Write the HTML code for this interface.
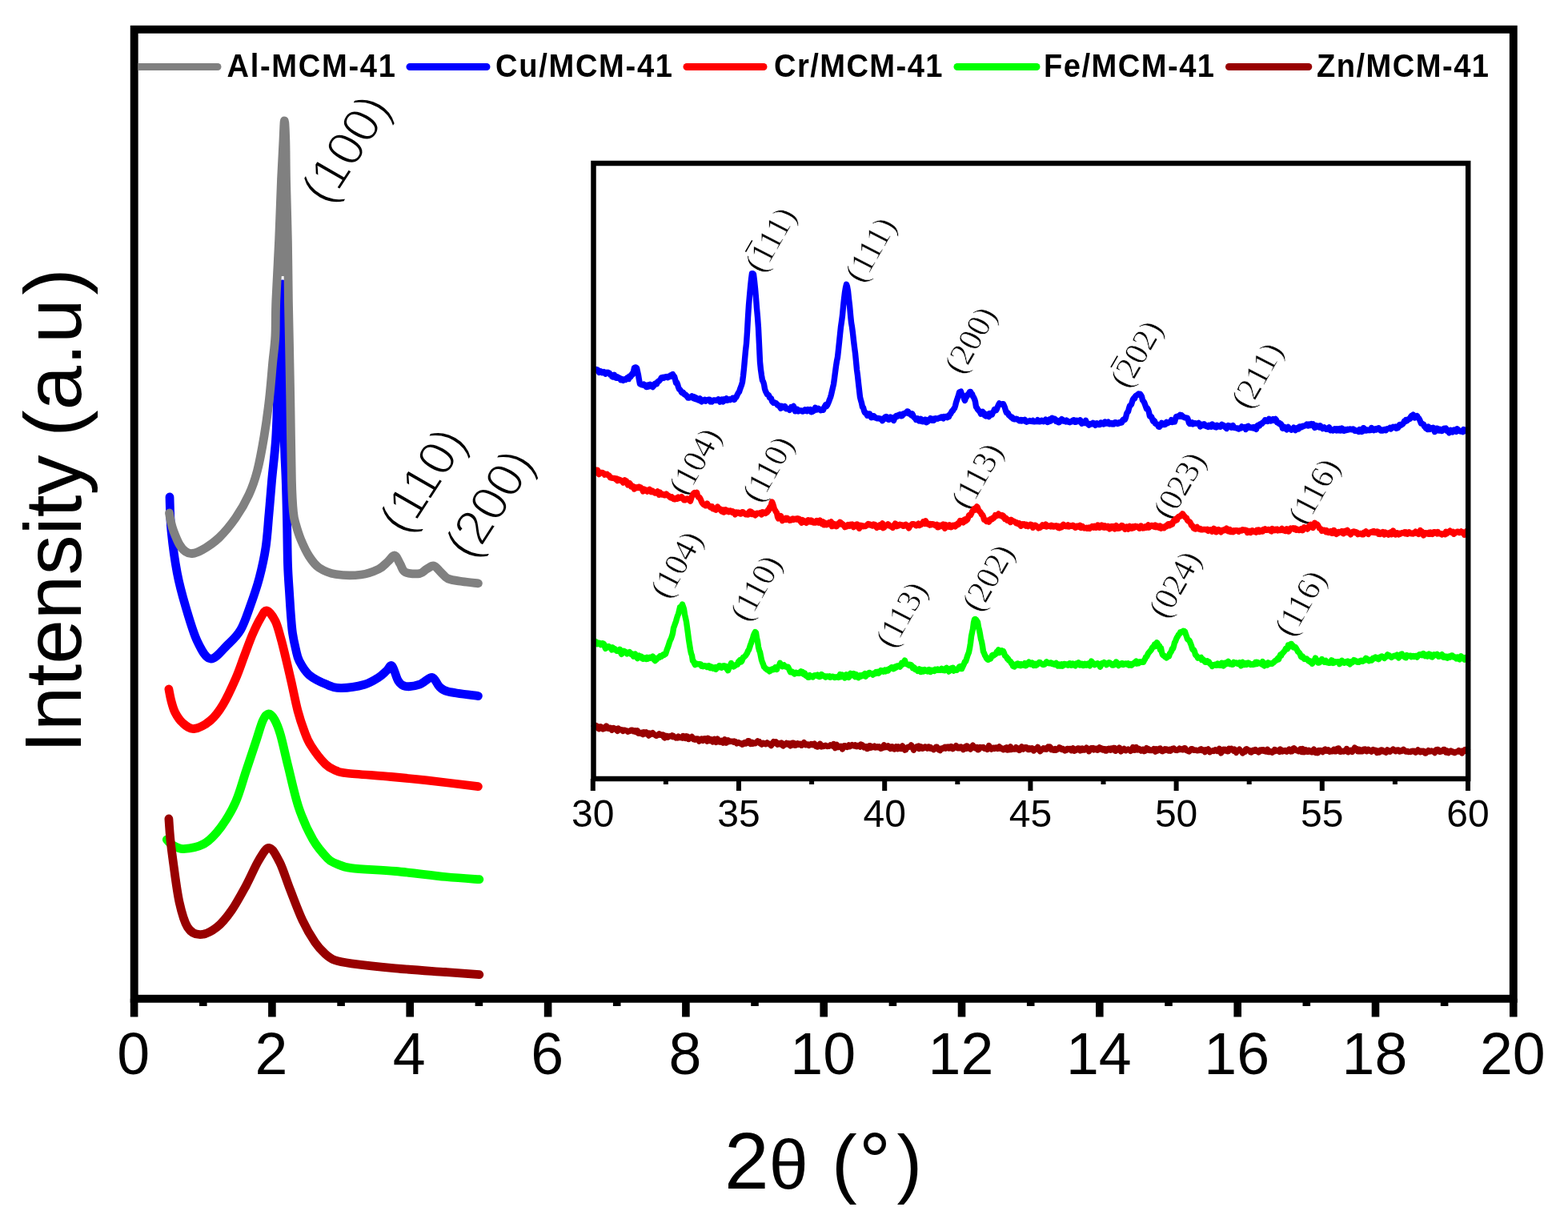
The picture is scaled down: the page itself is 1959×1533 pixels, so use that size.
<!DOCTYPE html><html><head><meta charset="utf-8"><title>XRD patterns</title>
<style>html,body{margin:0;padding:0;background:#fff;}svg{display:block;}.ar{font-family:"Liberation Sans",Arial,sans-serif;}.tm{font-family:"Liberation Serif","Times New Roman",serif;}</style></head><body>
<svg width="1959" height="1533" viewBox="0 0 1959 1533">
<rect width="1959" height="1533" fill="#fff"/>
<g fill="none" stroke-width="10.8" stroke-linejoin="round" stroke-linecap="round">
<path d="M212.0,621.0 C212.3,628.1 212.4,647.7 214.0,663.5 C215.6,679.3 218.3,700.0 221.3,715.7 C224.3,731.4 227.6,743.3 231.8,757.5 C236.0,771.7 241.2,790.1 246.4,801.0 C251.6,811.9 256.7,822.2 263.0,823.0 C269.3,823.8 277.7,812.0 284.0,806.0 C290.3,800.0 295.9,795.1 300.6,787.0 C305.4,778.9 308.6,768.3 312.5,757.5 C316.4,746.7 320.8,734.2 324.0,722.0 C327.2,709.8 330.0,697.2 332.0,684.0 C334.0,670.8 334.7,656.6 336.0,642.6 C337.3,628.6 338.2,615.4 339.6,600.0 C341.0,584.6 343.3,566.7 344.5,550.0 C345.7,533.3 345.9,516.7 346.6,500.0 C347.3,483.3 347.8,466.7 348.5,450.0 C349.2,433.3 350.1,415.8 350.8,400.0 C351.5,384.2 352.1,355.0 352.5,355.0 C352.9,355.0 353.1,384.2 353.3,400.0 C353.5,415.8 353.6,433.3 353.8,450.0 C354.0,466.7 354.3,483.3 354.5,500.0 C354.7,516.7 354.8,533.3 355.2,550.0 C355.6,566.7 356.6,583.3 357.2,600.0 C357.8,616.7 358.1,632.5 358.5,650.0 C358.9,667.5 359.0,690.0 359.5,705.0 C360.0,720.0 360.8,729.2 361.5,740.0 C362.2,750.8 362.8,761.5 363.5,770.0 C364.2,778.5 364.5,784.2 365.5,791.0 C366.5,797.8 368.1,805.2 369.5,811.0 C370.9,816.8 371.2,820.7 374.0,826.0 C376.8,831.3 380.2,838.1 386.0,843.0 C391.8,847.9 402.2,852.8 409.0,855.6 C415.8,858.4 418.9,859.7 426.6,859.6 C434.3,859.5 447.6,857.4 455.4,855.2 C463.2,853.0 468.6,849.2 473.2,846.3 C477.8,843.4 480.2,840.4 483.0,838.0 C485.8,835.6 487.4,829.9 489.8,832.0 C492.2,834.1 494.8,846.5 497.6,850.7 C500.4,854.9 502.1,856.6 506.5,857.4 C510.9,858.1 518.7,857.1 524.2,855.2 C529.7,853.4 535.6,845.9 539.7,846.3 C543.8,846.7 545.3,854.4 548.6,857.4 C551.9,860.4 551.6,862.0 559.7,864.0 C567.8,866.0 591.1,868.7 597.4,869.6" stroke="#0000ff"/>
<path d="M211.5,641.0 C211.8,642.8 212.6,648.2 213.5,652.0 C214.4,655.8 215.2,659.3 217.0,664.0 C218.8,668.7 221.6,675.8 224.0,680.0 C226.4,684.2 229.0,687.1 231.7,689.0 C234.4,690.9 236.5,691.8 240.0,691.5 C243.5,691.2 247.0,690.2 252.6,687.0 C258.2,683.8 266.5,678.7 273.5,672.0 C280.5,665.3 288.1,656.0 294.4,647.0 C300.6,638.0 306.5,627.8 311.0,618.0 C315.5,608.2 318.3,600.2 321.5,588.0 C324.7,575.8 327.5,560.0 330.0,545.0 C332.5,530.0 334.8,513.0 336.5,498.0 C338.2,483.0 339.3,468.0 340.5,455.0 C341.7,442.0 343.2,433.2 343.9,420.0 C344.6,406.8 344.0,396.0 344.8,376.0 C345.6,356.0 347.5,325.2 348.6,300.0 C349.7,274.8 350.6,245.3 351.5,224.5 C352.4,203.7 353.4,187.2 354.0,175.0 C354.6,162.8 354.9,151.0 355.4,151.0 C355.9,151.0 356.4,162.8 356.8,175.0 C357.2,187.2 357.1,203.7 357.5,224.5 C357.9,245.3 358.9,274.8 359.4,300.0 C359.9,325.2 360.0,354.3 360.4,376.0 C360.8,397.7 361.1,409.3 361.5,430.0 C361.9,450.7 362.3,471.7 362.8,500.0 C363.3,528.3 363.8,576.7 364.4,600.0 C365.0,623.3 365.6,630.8 366.5,640.0 C367.4,649.2 367.9,649.3 369.5,655.0 C371.1,660.7 373.0,667.3 375.8,674.0 C378.6,680.7 382.4,689.1 386.2,695.0 C390.0,700.9 393.1,705.6 398.7,709.4 C404.3,713.1 410.9,716.1 419.6,717.5 C428.3,718.9 442.1,719.1 451.0,718.0 C459.9,716.9 467.6,713.7 473.2,711.0 C478.8,708.3 481.0,704.8 484.3,702.0 C487.6,699.2 490.5,693.6 493.1,694.0 C495.7,694.4 497.6,700.9 499.8,704.4 C502.0,707.9 502.4,713.0 506.5,715.0 C510.6,717.0 519.8,717.3 524.2,716.6 C528.6,715.9 530.0,712.6 533.0,711.0 C536.0,709.4 539.0,706.3 542.0,707.0 C545.0,707.7 547.8,712.3 550.8,715.0 C553.8,717.7 555.3,721.1 559.7,723.0 C564.1,724.9 571.1,725.5 577.4,726.5 C583.7,727.5 594.1,728.4 597.4,728.8" stroke="#808080"/>
<path d="M355.4,165 L347.6,345 L359.8,345 Z" fill="#808080" stroke="none"/>
<path d="M210.9,861.0 C211.4,863.5 212.7,871.2 214.0,876.0 C215.3,880.8 216.4,885.5 218.7,890.0 C221.0,894.5 224.1,899.6 228.0,903.0 C231.9,906.4 236.3,911.0 242.2,910.5 C248.0,910.0 257.0,905.1 263.1,900.0 C269.2,894.9 273.6,888.7 278.8,880.0 C284.0,871.3 290.0,858.0 294.4,848.0 C298.8,838.0 301.5,829.2 305.0,820.0 C308.5,810.8 311.9,801.0 315.3,793.0 C318.8,785.0 322.7,777.0 325.7,772.0 C328.7,767.0 330.4,762.3 333.5,763.0 C336.6,763.7 341.1,770.2 344.0,776.0 C346.9,781.8 348.8,790.3 351.0,798.0 C353.2,805.7 354.8,813.0 357.0,822.0 C359.2,831.0 361.5,841.0 364.0,852.0 C366.5,863.0 369.3,877.8 372.0,888.0 C374.7,898.2 377.3,905.8 380.0,913.0 C382.7,920.2 383.9,924.4 388.4,931.4 C392.8,938.4 401.5,949.7 406.7,954.9 C411.9,960.1 415.4,960.9 419.8,962.7 C424.2,964.6 421.8,964.7 433.3,966.0 C444.8,967.3 472.1,969.0 488.7,970.5 C505.3,972.0 514.9,972.9 533.0,974.9 C551.1,976.9 586.7,981.4 597.4,982.7" stroke="#ff0000"/>
<path d="M208.3,1049.0 C209.4,1050.1 211.5,1053.6 215.0,1055.5 C218.5,1057.4 222.5,1060.8 229.2,1060.6 C235.9,1060.3 247.5,1058.6 255.3,1054.0 C263.1,1049.4 269.7,1041.9 276.2,1033.2 C282.7,1024.5 289.2,1013.7 294.4,1002.0 C299.6,990.3 303.1,976.0 307.5,963.0 C311.9,950.0 317.0,934.5 320.5,924.0 C324.0,913.5 326.0,905.3 328.5,900.0 C331.0,894.7 333.1,892.2 335.5,892.0 C337.9,891.8 340.5,894.6 343.0,899.0 C345.5,903.4 347.7,908.5 350.5,918.3 C353.3,928.0 356.2,942.3 360.0,957.5 C363.8,972.7 368.3,994.5 373.5,1009.7 C378.7,1025.0 385.0,1038.5 391.0,1049.0 C397.0,1059.5 404.5,1067.4 409.3,1072.4 C414.1,1077.4 414.8,1076.9 419.8,1078.9 C424.8,1080.9 426.7,1083.0 439.1,1084.6 C451.5,1086.2 474.4,1086.7 494.0,1088.5 C513.6,1090.3 539.1,1093.8 556.6,1095.5 C574.1,1097.2 591.9,1098.2 598.9,1098.7" stroke="#00ff00"/>
<path d="M210.9,1023.0 C211.2,1027.5 212.1,1041.3 213.0,1050.0 C213.9,1058.7 214.3,1062.2 216.1,1075.0 C217.9,1087.8 220.9,1113.1 224.0,1127.0 C227.1,1140.9 230.1,1151.7 234.4,1158.5 C238.7,1165.3 243.9,1167.7 250.0,1167.7 C256.1,1167.7 264.4,1163.5 270.9,1158.5 C277.4,1153.5 283.1,1146.3 289.2,1137.6 C295.3,1128.9 301.8,1116.7 307.5,1106.3 C313.2,1095.9 318.4,1082.8 323.2,1075.0 C328.0,1067.2 331.8,1059.2 336.2,1059.5 C340.6,1059.8 344.9,1068.4 349.3,1077.0 C353.7,1085.6 357.5,1098.8 362.3,1111.0 C367.1,1123.2 372.8,1138.9 378.0,1150.0 C383.2,1161.1 389.0,1170.6 393.7,1177.5 C398.4,1184.4 401.9,1187.8 406.0,1191.5 C410.1,1195.2 412.5,1197.5 418.0,1199.5 C423.5,1201.5 426.4,1202.1 439.1,1203.8 C451.8,1205.5 474.4,1208.0 494.0,1209.8 C513.6,1211.6 539.1,1213.2 556.6,1214.5 C574.1,1215.8 591.9,1217.2 598.9,1217.7" stroke="#980000"/>
</g>
<rect x="167.7" y="36.8" width="1723.1" height="1211.0" fill="none" stroke="#000" stroke-width="9.9"/>
<path d="M167.6,1247.8 V1270.5 M253.8,1247.8 V1257.0 M339.9,1247.8 V1270.5 M426.1,1247.8 V1257.0 M512.2,1247.8 V1270.5 M598.4,1247.8 V1257.0 M684.6,1247.8 V1270.5 M770.7,1247.8 V1257.0 M856.9,1247.8 V1270.5 M943.0,1247.8 V1257.0 M1029.2,1247.8 V1270.5 M1115.4,1247.8 V1257.0 M1201.5,1247.8 V1270.5 M1287.7,1247.8 V1257.0 M1373.8,1247.8 V1270.5 M1460.0,1247.8 V1257.0 M1546.2,1247.8 V1270.5 M1632.3,1247.8 V1257.0 M1718.5,1247.8 V1270.5 M1804.6,1247.8 V1257.0 M1890.8,1247.8 V1270.5" stroke="#000" stroke-width="9.6" fill="none"/>
<g class="ar" font-size="73.5" text-anchor="middle" fill="#000">
<text x="166.6" y="1342.3">0</text>
<text x="338.9" y="1342.3">2</text>
<text x="511.2" y="1342.3">4</text>
<text x="683.6" y="1342.3">6</text>
<text x="855.9" y="1342.3">8</text>
<text x="1028.2" y="1342.3">10</text>
<text x="1200.5" y="1342.3">12</text>
<text x="1372.8" y="1342.3">14</text>
<text x="1545.2" y="1342.3">16</text>
<text x="1717.5" y="1342.3">18</text>
<text x="1889.8" y="1342.3">20</text>
</g>
<text id="ylab" class="ar" font-size="100" text-anchor="middle" transform="translate(100.5,638) rotate(-90)">Intensity <tspan dx="-5">(a.u</tspan><tspan dx="5">)</tspan></text>
<text id="xlab" class="ar" font-size="100" x="905" y="1485">2<tspan font-size="88">θ</tspan><tspan font-size="95" dx="3"> (</tspan><tspan dx="2.5">°</tspan><tspan font-size="95" dx="7.5">)</tspan></text>
<g class="ar" font-weight="bold" font-size="41" fill="#000">
<line x1="172.5" y1="83.5" x2="272.0" y2="83.5" stroke="#808080" stroke-width="9" stroke-linecap="butt"/>
<circle cx="272.0" cy="83.5" r="4.5" fill="#808080"/>
<text id="leg0" transform="scale(0.930,1)" x="304.8" y="96" textLength="226.3" lengthAdjust="spacing">Al-MCM-41</text>
<line x1="512.0" y1="83.5" x2="608.0" y2="83.5" stroke="#0000ff" stroke-width="9" stroke-linecap="round"/>
<text id="leg1" transform="scale(0.930,1)" x="665.6" y="96" textLength="237.6" lengthAdjust="spacing">Cu/MCM-41</text>
<line x1="858.0" y1="83.5" x2="954.0" y2="83.5" stroke="#ff0000" stroke-width="9" stroke-linecap="round"/>
<text id="leg2" transform="scale(0.930,1)" x="1039.8" y="96" textLength="226.3" lengthAdjust="spacing">Cr/MCM-41</text>
<line x1="1196.0" y1="83.5" x2="1295.0" y2="83.5" stroke="#00ff00" stroke-width="9" stroke-linecap="round"/>
<text id="leg3" transform="scale(0.930,1)" x="1402.2" y="96" textLength="229.0" lengthAdjust="spacing">Fe/MCM-41</text>
<line x1="1535.5" y1="83.5" x2="1634.8" y2="83.5" stroke="#980000" stroke-width="9" stroke-linecap="round"/>
<text id="leg4" transform="scale(0.930,1)" x="1768.8" y="96" textLength="231.2" lengthAdjust="spacing">Zn/MCM-41</text>
</g>
<g id="m100" transform="matrix(0.5446,-0.8387,0.8660,0.5000,410.5,258.3)"><text class="ar" font-size="63" stroke="#fff" stroke-width="1.7">(100)</text></g>
<g id="m110" transform="matrix(0.5446,-0.8387,0.8660,0.5000,507.9,670.5)"><text class="ar" font-size="63" stroke="#fff" stroke-width="1.7">(110)</text></g>
<g id="m200" transform="matrix(0.5446,-0.8387,0.8660,0.5000,590.2,701.5)"><text class="ar" font-size="63" stroke="#fff" stroke-width="1.7">(200)</text></g>
<g id="b111n" transform="matrix(0.5000,-0.8660,0.8910,0.4540,953.1,342.7)"><text class="tm" font-size="41" stroke="#fff" stroke-width="0.6">(111)</text><line x1="15.2" y1="-32.8" x2="31.7" y2="-32.8" stroke="#000" stroke-width="1.6"/></g>
<g id="b111" transform="matrix(0.5000,-0.8660,0.8910,0.4540,1078.0,355.2)"><text class="tm" font-size="41" stroke="#fff" stroke-width="0.6">(111)</text></g>
<g id="b200" transform="matrix(0.5000,-0.8660,0.8910,0.4540,1202.3,469.6)"><text class="tm" font-size="41" stroke="#fff" stroke-width="0.6">(200)</text></g>
<g id="b202n" transform="matrix(0.5000,-0.8660,0.8910,0.4540,1409.6,486.9)"><text class="tm" font-size="41" stroke="#fff" stroke-width="0.6">(202)</text><line x1="15.2" y1="-32.8" x2="31.7" y2="-32.8" stroke="#000" stroke-width="1.6"/></g>
<g id="b211" transform="matrix(0.5000,-0.8660,0.8910,0.4540,1560.8,513.1)"><text class="tm" font-size="41" stroke="#fff" stroke-width="0.6">(211)</text></g>
<g id="r104" transform="matrix(0.5000,-0.8660,0.8910,0.4540,858.0,621.1)"><text class="tm" font-size="41" stroke="#fff" stroke-width="0.6">(104)</text></g>
<g id="r110" transform="matrix(0.5000,-0.8660,0.8910,0.4540,949.7,630.1)"><text class="tm" font-size="41" stroke="#fff" stroke-width="0.6">(110)</text></g>
<g id="r113" transform="matrix(0.5000,-0.8660,0.8910,0.4540,1210.7,638.5)"><text class="tm" font-size="41" stroke="#fff" stroke-width="0.6">(113)</text></g>
<g id="r023" transform="matrix(0.5000,-0.8660,0.8910,0.4540,1463.3,651.1)"><text class="tm" font-size="41" stroke="#fff" stroke-width="0.6">(023)</text></g>
<g id="r116" transform="matrix(0.5000,-0.8660,0.8910,0.4540,1631.8,657.7)"><text class="tm" font-size="41" stroke="#fff" stroke-width="0.6">(116)</text></g>
<g id="g104" transform="matrix(0.5000,-0.8660,0.8910,0.4540,835.0,750.0)"><text class="tm" font-size="41" stroke="#fff" stroke-width="0.6">(104)</text></g>
<g id="g110" transform="matrix(0.5000,-0.8660,0.8910,0.4540,934.4,778.8)"><text class="tm" font-size="41" stroke="#fff" stroke-width="0.6">(110)</text></g>
<g id="g113" transform="matrix(0.5000,-0.8660,0.8910,0.4540,1116.2,811.8)"><text class="tm" font-size="41" stroke="#fff" stroke-width="0.6">(113)</text></g>
<g id="g202" transform="matrix(0.5000,-0.8660,0.8910,0.4540,1224.2,766.5)"><text class="tm" font-size="41" stroke="#fff" stroke-width="0.6">(202)</text></g>
<g id="g024" transform="matrix(0.5000,-0.8660,0.8910,0.4540,1457.5,774.8)"><text class="tm" font-size="41" stroke="#fff" stroke-width="0.6">(024)</text></g>
<g id="g116" transform="matrix(0.5000,-0.8660,0.8910,0.4540,1614.8,797.5)"><text class="tm" font-size="41" stroke="#fff" stroke-width="0.6">(116)</text></g>
<g fill="none" stroke-width="7.4" stroke-linejoin="round" stroke-linecap="butt">
<path d="M741.5,462.1 742.5,462.4 743.5,461.9 744.5,461.4 745.5,461.9 746.5,462.0 747.5,463.7 748.5,465.3 749.5,463.7 750.5,463.7 751.5,465.3 752.5,465.7 753.5,465.5 754.5,464.7 755.5,466.1 756.5,467.1 757.5,465.5 758.5,466.1 759.5,465.2 760.5,465.9 761.5,466.3 762.5,468.3 763.5,468.3 764.5,470.3 765.5,471.0 766.5,470.4 767.5,468.4 768.5,470.7 769.5,472.1 770.5,472.3 771.5,470.9 772.5,471.9 773.5,471.9 774.5,472.7 775.5,474.7 776.5,473.4 777.5,474.2 778.5,475.3 779.5,474.0 780.5,474.2 781.5,474.5 782.5,473.9 783.5,472.1 784.5,473.1 785.5,473.4 786.5,470.1 787.5,471.1 788.5,469.6 789.5,467.4 790.5,467.8 791.5,464.0 792.5,459.5 793.5,459.0 794.5,459.0 795.5,459.7 796.5,464.0 797.5,468.6 798.5,474.8 799.5,479.8 800.5,480.1 801.5,480.8 802.5,480.7 803.5,481.2 804.5,480.2 805.5,480.9 806.5,481.9 807.5,483.6 808.5,483.6 809.5,481.0 810.5,481.4 811.5,482.6 812.5,480.3 813.5,481.5 814.5,482.4 815.5,483.5 816.5,482.3 817.5,480.2 818.5,479.1 819.5,478.9 820.5,479.7 821.5,477.1 822.5,476.3 823.5,476.1 824.5,474.8 825.5,473.4 826.5,471.6 827.5,471.7 828.5,471.2 829.5,472.3 830.5,471.6 831.5,470.8 832.5,471.2 833.5,470.5 834.5,471.7 835.5,470.9 836.5,470.9 837.5,469.2 838.5,470.2 839.5,468.1 840.5,467.6 841.5,469.5 842.5,470.4 843.5,473.8 844.5,478.1 845.5,477.7 846.5,480.1 847.5,483.7 848.5,486.1 849.5,486.8 850.5,488.0 851.5,490.2 852.5,490.9 853.5,490.3 854.5,492.1 855.5,493.1 856.5,493.0 857.5,494.7 858.5,494.8 859.5,497.1 860.5,497.0 861.5,496.8 862.5,496.4 863.5,496.5 864.5,494.9 865.5,496.0 866.5,497.6 867.5,496.0 868.5,498.4 869.5,496.9 870.5,499.0 871.5,498.4 872.5,499.9 873.5,499.3 874.5,498.0 875.5,501.1 876.5,501.8 877.5,500.1 878.5,499.6 879.5,499.6 880.5,499.3 881.5,501.2 882.5,500.0 883.5,500.1 884.5,499.4 885.5,499.3 886.5,499.3 887.5,501.8 888.5,501.1 889.5,501.9 890.5,500.9 891.5,499.9 892.5,500.1 893.5,500.0 894.5,500.5 895.5,500.2 896.5,499.9 897.5,498.8 898.5,499.8 899.5,502.2 900.5,499.9 901.5,499.2 902.5,500.9 903.5,501.8 904.5,498.9 905.5,499.4 906.5,498.9 907.5,497.9 908.5,500.3 909.5,500.0 910.5,499.5 911.5,498.8 912.5,499.6 913.5,498.7 914.5,498.5 915.5,497.2 916.5,497.3 917.5,499.3 918.5,497.2 919.5,496.5 920.5,494.8 921.5,492.5 922.5,490.7 923.5,489.6 924.5,486.4 925.5,483.7 926.5,481.2 927.5,477.3 928.5,469.7 929.5,460.4 930.5,449.1 931.5,438.0 932.5,429.5 933.5,414.8 934.5,396.5 935.5,381.0 936.5,369.5 937.5,358.9 938.5,349.1 939.5,341.6 940.5,341.6 941.5,342.6 942.5,351.0 943.5,360.5 944.5,372.0 945.5,385.0 946.5,396.1 947.5,410.1 948.5,430.6 949.5,452.1 950.5,462.1 951.5,469.1 952.5,475.1 953.5,476.8 954.5,480.0 955.5,485.9 956.5,488.9 957.5,490.8 958.5,492.6 959.5,493.1 960.5,493.9 961.5,496.6 962.5,497.1 963.5,497.9 964.5,501.3 965.5,502.3 966.5,503.3 967.5,502.7 968.5,503.4 969.5,503.8 970.5,504.7 971.5,506.3 972.5,506.1 973.5,507.5 974.5,508.6 975.5,510.1 976.5,507.3 977.5,509.3 978.5,509.0 979.5,508.8 980.5,507.6 981.5,509.1 982.5,510.8 983.5,510.4 984.5,510.6 985.5,510.8 986.5,512.3 987.5,511.0 988.5,508.7 989.5,509.8 990.5,508.5 991.5,507.5 992.5,511.1 993.5,513.8 994.5,512.6 995.5,511.0 996.5,511.5 997.5,513.9 998.5,513.3 999.5,513.0 1000.5,512.9 1001.5,513.2 1002.5,514.1 1003.5,513.9 1004.5,513.1 1005.5,511.9 1006.5,513.1 1007.5,512.5 1008.5,513.7 1009.5,511.6 1010.5,512.3 1011.5,512.4 1012.5,511.6 1013.5,514.7 1014.5,514.6 1015.5,512.5 1016.5,513.3 1017.5,512.3 1018.5,509.3 1019.5,511.7 1020.5,512.0 1021.5,511.7 1022.5,510.4 1023.5,511.0 1024.5,511.5 1025.5,512.7 1026.5,511.8 1027.5,511.4 1028.5,512.2 1029.5,509.4 1030.5,507.8 1031.5,505.8 1032.5,507.8 1033.5,506.3 1034.5,504.2 1035.5,501.8 1036.5,499.0 1037.5,496.5 1038.5,492.9 1039.5,488.7 1040.5,484.3 1041.5,480.0 1042.5,472.8 1043.5,465.1 1044.5,457.5 1045.5,451.1 1046.5,446.2 1047.5,437.1 1048.5,427.5 1049.5,417.8 1050.5,408.4 1051.5,401.6 1052.5,394.0 1053.5,383.2 1054.5,373.6 1055.5,365.4 1056.5,359.4 1057.5,355.3 1058.5,358.1 1059.5,363.7 1060.5,373.3 1061.5,381.7 1062.5,392.9 1063.5,402.8 1064.5,408.7 1065.5,416.3 1066.5,425.5 1067.5,433.6 1068.5,441.2 1069.5,451.4 1070.5,461.9 1071.5,469.3 1072.5,478.6 1073.5,487.3 1074.5,496.1 1075.5,500.1 1076.5,503.5 1077.5,508.4 1078.5,509.2 1079.5,513.1 1080.5,515.5 1081.5,515.5 1082.5,517.1 1083.5,519.1 1084.5,517.5 1085.5,516.9 1086.5,516.9 1087.5,519.3 1088.5,521.7 1089.5,521.5 1090.5,519.6 1091.5,519.7 1092.5,520.7 1093.5,522.0 1094.5,522.0 1095.5,522.6 1096.5,522.9 1097.5,522.5 1098.5,522.8 1099.5,523.2 1100.5,523.1 1101.5,524.1 1102.5,525.6 1103.5,524.3 1104.5,523.0 1105.5,521.3 1106.5,522.8 1107.5,520.7 1108.5,521.3 1109.5,524.1 1110.5,524.3 1111.5,522.9 1112.5,521.1 1113.5,522.2 1114.5,522.3 1115.5,524.0 1116.5,525.4 1117.5,522.8 1118.5,520.6 1119.5,519.7 1120.5,520.5 1121.5,519.9 1122.5,518.5 1123.5,519.0 1124.5,517.9 1125.5,519.8 1126.5,519.8 1127.5,519.0 1128.5,517.0 1129.5,517.3 1130.5,516.4 1131.5,515.7 1132.5,515.3 1133.5,514.0 1134.5,514.2 1135.5,516.8 1136.5,516.7 1137.5,517.7 1138.5,518.8 1139.5,516.8 1140.5,518.4 1141.5,520.8 1142.5,522.0 1143.5,522.4 1144.5,524.5 1145.5,524.2 1146.5,523.0 1147.5,523.8 1148.5,526.0 1149.5,525.5 1150.5,523.4 1151.5,526.5 1152.5,526.6 1153.5,526.8 1154.5,524.9 1155.5,524.3 1156.5,524.2 1157.5,527.7 1158.5,525.8 1159.5,526.5 1160.5,524.4 1161.5,524.3 1162.5,522.6 1163.5,523.9 1164.5,525.2 1165.5,523.3 1166.5,525.2 1167.5,524.5 1168.5,522.7 1169.5,522.8 1170.5,523.0 1171.5,523.2 1172.5,522.5 1173.5,522.0 1174.5,522.2 1175.5,521.2 1176.5,520.9 1177.5,522.3 1178.5,522.9 1179.5,520.5 1180.5,521.3 1181.5,520.6 1182.5,520.2 1183.5,521.5 1184.5,520.1 1185.5,520.7 1186.5,517.7 1187.5,517.2 1188.5,515.3 1189.5,513.4 1190.5,513.1 1191.5,511.1 1192.5,510.0 1193.5,507.1 1194.5,502.9 1195.5,500.0 1196.5,496.8 1197.5,494.1 1198.5,490.1 1199.5,489.6 1200.5,489.2 1201.5,492.8 1202.5,493.2 1203.5,494.3 1204.5,498.2 1205.5,500.3 1206.5,497.3 1207.5,495.9 1208.5,494.5 1209.5,492.4 1210.5,491.8 1211.5,489.6 1212.5,489.4 1213.5,491.5 1214.5,492.2 1215.5,495.2 1216.5,496.5 1217.5,498.7 1218.5,501.9 1219.5,508.5 1220.5,509.5 1221.5,511.5 1222.5,512.6 1223.5,513.6 1224.5,514.9 1225.5,517.1 1226.5,514.8 1227.5,514.3 1228.5,515.4 1229.5,516.3 1230.5,519.2 1231.5,519.8 1232.5,518.0 1233.5,517.5 1234.5,519.2 1235.5,520.5 1236.5,516.6 1237.5,518.6 1238.5,517.3 1239.5,517.9 1240.5,515.0 1241.5,513.9 1242.5,511.5 1243.5,511.1 1244.5,512.6 1245.5,510.9 1246.5,508.0 1247.5,505.8 1248.5,503.9 1249.5,504.8 1250.5,505.1 1251.5,504.9 1252.5,504.8 1253.5,504.7 1254.5,507.0 1255.5,509.4 1256.5,513.1 1257.5,515.7 1258.5,515.4 1259.5,516.4 1260.5,518.7 1261.5,519.6 1262.5,520.3 1263.5,521.4 1264.5,521.3 1265.5,523.2 1266.5,523.3 1267.5,523.9 1268.5,523.7 1269.5,523.3 1270.5,523.4 1271.5,524.4 1272.5,524.7 1273.5,525.8 1274.5,525.6 1275.5,524.6 1276.5,525.8 1277.5,524.8 1278.5,525.5 1279.5,525.8 1280.5,524.4 1281.5,526.6 1282.5,527.2 1283.5,526.7 1284.5,526.4 1285.5,526.2 1286.5,525.6 1287.5,526.2 1288.5,526.2 1289.5,526.5 1290.5,525.5 1291.5,526.8 1292.5,526.9 1293.5,526.4 1294.5,526.2 1295.5,526.6 1296.5,524.7 1297.5,526.6 1298.5,526.8 1299.5,526.7 1300.5,526.5 1301.5,525.3 1302.5,525.7 1303.5,526.7 1304.5,526.6 1305.5,525.8 1306.5,524.1 1307.5,526.2 1308.5,527.4 1309.5,527.1 1310.5,525.6 1311.5,523.9 1312.5,526.1 1313.5,524.8 1314.5,522.3 1315.5,524.7 1316.5,523.2 1317.5,523.1 1318.5,524.4 1319.5,526.5 1320.5,525.2 1321.5,525.9 1322.5,527.8 1323.5,527.6 1324.5,525.5 1325.5,524.7 1326.5,523.7 1327.5,524.4 1328.5,526.0 1329.5,526.2 1330.5,526.2 1331.5,526.8 1332.5,525.2 1333.5,525.9 1334.5,527.1 1335.5,527.3 1336.5,527.8 1337.5,527.1 1338.5,526.3 1339.5,526.7 1340.5,525.2 1341.5,524.8 1342.5,527.2 1343.5,527.3 1344.5,527.1 1345.5,525.3 1346.5,526.4 1347.5,526.5 1348.5,525.9 1349.5,524.8 1350.5,527.1 1351.5,529.1 1352.5,528.6 1353.5,527.6 1354.5,528.3 1355.5,528.5 1356.5,525.3 1357.5,527.8 1358.5,529.4 1359.5,530.0 1360.5,531.2 1361.5,530.6 1362.5,529.5 1363.5,529.4 1364.5,529.7 1365.5,528.3 1366.5,528.8 1367.5,530.4 1368.5,531.3 1369.5,529.1 1370.5,528.8 1371.5,529.4 1372.5,530.4 1373.5,529.5 1374.5,530.3 1375.5,528.0 1376.5,528.3 1377.5,528.7 1378.5,530.0 1379.5,529.9 1380.5,527.0 1381.5,527.4 1382.5,528.8 1383.5,527.7 1384.5,527.1 1385.5,529.8 1386.5,529.8 1387.5,529.4 1388.5,528.6 1389.5,529.8 1390.5,529.1 1391.5,529.8 1392.5,527.8 1393.5,527.6 1394.5,528.6 1395.5,528.2 1396.5,529.5 1397.5,529.0 1398.5,527.8 1399.5,528.4 1400.5,527.9 1401.5,528.0 1402.5,525.3 1403.5,524.0 1404.5,524.6 1405.5,524.2 1406.5,521.7 1407.5,517.2 1408.5,515.1 1409.5,514.1 1410.5,510.2 1411.5,507.1 1412.5,506.4 1413.5,505.2 1414.5,501.9 1415.5,498.9 1416.5,497.6 1417.5,497.9 1418.5,495.2 1419.5,494.2 1420.5,493.6 1421.5,493.1 1422.5,492.0 1423.5,492.7 1424.5,492.3 1425.5,493.8 1426.5,495.6 1427.5,499.8 1428.5,501.2 1429.5,502.6 1430.5,505.3 1431.5,508.1 1432.5,510.8 1433.5,510.2 1434.5,512.0 1435.5,515.2 1436.5,520.1 1437.5,520.4 1438.5,520.6 1439.5,523.3 1440.5,526.1 1441.5,525.2 1442.5,526.3 1443.5,529.2 1444.5,529.8 1445.5,530.4 1446.5,530.3 1447.5,533.2 1448.5,533.4 1449.5,532.0 1450.5,531.0 1451.5,528.4 1452.5,530.6 1453.5,530.2 1454.5,530.6 1455.5,530.6 1456.5,528.9 1457.5,527.3 1458.5,528.9 1459.5,528.0 1460.5,527.8 1461.5,527.3 1462.5,526.6 1463.5,524.7 1464.5,527.5 1465.5,526.8 1466.5,527.1 1467.5,527.1 1468.5,523.8 1469.5,520.7 1470.5,520.5 1471.5,520.0 1472.5,520.4 1473.5,520.3 1474.5,518.3 1475.5,520.0 1476.5,518.9 1477.5,520.7 1478.5,521.0 1479.5,521.2 1480.5,521.9 1481.5,522.0 1482.5,522.2 1483.5,522.1 1484.5,525.0 1485.5,528.4 1486.5,529.6 1487.5,529.3 1488.5,528.6 1489.5,527.8 1490.5,530.0 1491.5,529.0 1492.5,528.8 1493.5,528.8 1494.5,529.3 1495.5,529.0 1496.5,529.2 1497.5,528.5 1498.5,529.9 1499.5,532.9 1500.5,530.9 1501.5,530.4 1502.5,531.5 1503.5,531.6 1504.5,529.8 1505.5,530.8 1506.5,532.4 1507.5,532.0 1508.5,532.1 1509.5,533.3 1510.5,531.3 1511.5,531.6 1512.5,531.7 1513.5,533.2 1514.5,530.0 1515.5,530.8 1516.5,531.7 1517.5,533.2 1518.5,533.7 1519.5,533.9 1520.5,531.3 1521.5,533.1 1522.5,532.4 1523.5,532.1 1524.5,533.2 1525.5,531.5 1526.5,530.3 1527.5,531.8 1528.5,531.2 1529.5,532.2 1530.5,533.7 1531.5,534.3 1532.5,535.4 1533.5,533.4 1534.5,531.6 1535.5,532.2 1536.5,532.2 1537.5,532.3 1538.5,534.0 1539.5,532.8 1540.5,531.7 1541.5,534.4 1542.5,534.3 1543.5,534.6 1544.5,534.6 1545.5,535.1 1546.5,534.9 1547.5,536.0 1548.5,535.4 1549.5,535.2 1550.5,534.8 1551.5,532.9 1552.5,534.0 1553.5,534.4 1554.5,534.5 1555.5,533.6 1556.5,536.4 1557.5,535.0 1558.5,532.9 1559.5,532.4 1560.5,534.0 1561.5,534.4 1562.5,533.9 1563.5,534.5 1564.5,534.1 1565.5,534.8 1566.5,533.5 1567.5,534.0 1568.5,535.5 1569.5,536.3 1570.5,532.2 1571.5,531.4 1572.5,531.0 1573.5,531.9 1574.5,529.6 1575.5,529.5 1576.5,529.5 1577.5,527.9 1578.5,527.3 1579.5,526.9 1580.5,524.8 1581.5,524.9 1582.5,526.0 1583.5,526.4 1584.5,525.3 1585.5,523.3 1586.5,524.5 1587.5,526.0 1588.5,525.7 1589.5,524.5 1590.5,523.7 1591.5,525.0 1592.5,524.0 1593.5,523.4 1594.5,524.7 1595.5,527.8 1596.5,527.9 1597.5,529.0 1598.5,528.5 1599.5,530.3 1600.5,529.9 1601.5,531.6 1602.5,535.3 1603.5,534.4 1604.5,533.3 1605.5,534.3 1606.5,535.7 1607.5,536.8 1608.5,535.0 1609.5,533.5 1610.5,535.0 1611.5,535.7 1612.5,536.1 1613.5,537.2 1614.5,536.4 1615.5,536.1 1616.5,534.2 1617.5,536.2 1618.5,537.6 1619.5,536.0 1620.5,534.8 1621.5,534.8 1622.5,535.8 1623.5,532.9 1624.5,533.1 1625.5,533.8 1626.5,533.7 1627.5,532.3 1628.5,532.5 1629.5,531.9 1630.5,531.9 1631.5,531.3 1632.5,530.1 1633.5,531.2 1634.5,531.9 1635.5,530.0 1636.5,530.5 1637.5,531.3 1638.5,529.7 1639.5,530.4 1640.5,529.8 1641.5,532.4 1642.5,534.4 1643.5,534.0 1644.5,531.7 1645.5,532.3 1646.5,532.1 1647.5,532.6 1648.5,533.9 1649.5,531.8 1650.5,534.0 1651.5,534.0 1652.5,535.5 1653.5,534.6 1654.5,533.9 1655.5,535.2 1656.5,536.2 1657.5,535.9 1658.5,536.3 1659.5,535.1 1660.5,533.9 1661.5,537.2 1662.5,537.8 1663.5,537.1 1664.5,537.2 1665.5,537.9 1666.5,536.3 1667.5,535.8 1668.5,536.7 1669.5,537.8 1670.5,535.8 1671.5,537.7 1672.5,536.1 1673.5,535.6 1674.5,538.0 1675.5,536.7 1676.5,535.1 1677.5,536.3 1678.5,538.1 1679.5,538.3 1680.5,536.7 1681.5,537.4 1682.5,537.6 1683.5,536.3 1684.5,537.0 1685.5,536.7 1686.5,536.0 1687.5,536.1 1688.5,536.8 1689.5,536.7 1690.5,536.0 1691.5,536.4 1692.5,538.1 1693.5,537.6 1694.5,538.2 1695.5,538.6 1696.5,538.4 1697.5,539.4 1698.5,536.6 1699.5,537.5 1700.5,537.1 1701.5,539.4 1702.5,538.8 1703.5,534.7 1704.5,535.3 1705.5,537.5 1706.5,538.1 1707.5,537.9 1708.5,537.0 1709.5,537.5 1710.5,537.7 1711.5,537.1 1712.5,537.4 1713.5,534.5 1714.5,536.7 1715.5,536.0 1716.5,537.6 1717.5,536.5 1718.5,535.8 1719.5,536.8 1720.5,535.6 1721.5,535.1 1722.5,534.7 1723.5,536.5 1724.5,537.6 1725.5,538.1 1726.5,537.2 1727.5,538.0 1728.5,537.0 1729.5,536.6 1730.5,537.4 1731.5,537.7 1732.5,536.0 1733.5,535.6 1734.5,535.5 1735.5,535.4 1736.5,534.5 1737.5,535.9 1738.5,534.6 1739.5,534.7 1740.5,533.3 1741.5,534.1 1742.5,533.9 1743.5,533.2 1744.5,535.2 1745.5,533.8 1746.5,534.5 1747.5,533.2 1748.5,530.7 1749.5,530.5 1750.5,531.1 1751.5,530.4 1752.5,529.8 1753.5,528.4 1754.5,526.2 1755.5,526.5 1756.5,524.5 1757.5,526.0 1758.5,524.6 1759.5,523.7 1760.5,523.7 1761.5,523.3 1762.5,520.7 1763.5,519.4 1764.5,519.4 1765.5,518.2 1766.5,519.6 1767.5,522.0 1768.5,519.8 1769.5,520.8 1770.5,519.7 1771.5,521.8 1772.5,522.5 1773.5,524.1 1774.5,526.5 1775.5,529.1 1776.5,529.0 1777.5,529.7 1778.5,530.1 1779.5,532.7 1780.5,533.4 1781.5,535.1 1782.5,535.3 1783.5,536.4 1784.5,533.1 1785.5,534.6 1786.5,536.3 1787.5,535.2 1788.5,534.6 1789.5,535.0 1790.5,534.3 1791.5,536.6 1792.5,539.5 1793.5,538.1 1794.5,535.3 1795.5,535.3 1796.5,536.4 1797.5,537.8 1798.5,536.1 1799.5,536.3 1800.5,538.4 1801.5,538.5 1802.5,536.9 1803.5,535.7 1804.5,535.3 1805.5,535.9 1806.5,535.2 1807.5,538.1 1808.5,537.5 1809.5,538.9 1810.5,540.8 1811.5,539.8 1812.5,537.4 1813.5,539.3 1814.5,539.8 1815.5,537.6 1816.5,537.1 1817.5,537.7 1818.5,537.0 1819.5,539.3 1820.5,535.8 1821.5,536.6 1822.5,538.0 1823.5,538.4 1824.5,538.9 1825.5,539.1 1826.5,538.9 1827.5,539.5 1828.5,536.5 1829.5,538.1 1830.5,538.0 1831.5,538.8 1832.5,538.9 1833.5,537.6 1834.2,537.8" stroke="#0000ff"/>
<path d="M741.5,587.7 742.5,587.1 743.5,586.8 744.5,590.3 745.5,590.9 746.5,587.4 747.5,589.5 748.5,592.6 749.5,591.5 750.5,590.7 751.5,590.4 752.5,590.4 753.5,591.1 754.5,591.6 755.5,593.2 756.5,592.6 757.5,592.5 758.5,592.3 759.5,593.7 760.5,593.6 761.5,595.0 762.5,596.9 763.5,596.8 764.5,597.2 765.5,597.4 766.5,597.4 767.5,597.4 768.5,597.9 769.5,599.0 770.5,598.1 771.5,600.6 772.5,599.9 773.5,599.1 774.5,599.5 775.5,600.0 776.5,601.1 777.5,601.2 778.5,603.1 779.5,601.3 780.5,599.8 781.5,601.3 782.5,601.1 783.5,603.8 784.5,605.9 785.5,605.5 786.5,603.6 787.5,604.8 788.5,608.0 789.5,607.2 790.5,607.1 791.5,609.0 792.5,611.0 793.5,610.0 794.5,608.8 795.5,609.2 796.5,609.6 797.5,608.4 798.5,608.2 799.5,609.5 800.5,609.1 801.5,610.3 802.5,611.6 803.5,613.9 804.5,611.1 805.5,611.5 806.5,612.1 807.5,613.3 808.5,614.0 809.5,612.6 810.5,611.9 811.5,611.3 812.5,612.6 813.5,614.7 814.5,614.5 815.5,613.5 816.5,614.4 817.5,615.5 818.5,616.1 819.5,615.3 820.5,615.3 821.5,614.0 822.5,615.4 823.5,618.2 824.5,615.1 825.5,616.8 826.5,618.0 827.5,617.6 828.5,617.4 829.5,618.4 830.5,618.9 831.5,618.7 832.5,617.2 833.5,618.9 834.5,618.8 835.5,619.4 836.5,620.7 837.5,621.7 838.5,622.0 839.5,621.0 840.5,622.6 841.5,623.4 842.5,623.7 843.5,623.8 844.5,622.2 845.5,622.2 846.5,623.0 847.5,621.2 848.5,622.5 849.5,622.2 850.5,622.0 851.5,620.7 852.5,621.7 853.5,623.3 854.5,624.8 855.5,624.9 856.5,623.8 857.5,623.3 858.5,622.9 859.5,624.1 860.5,623.9 861.5,625.1 862.5,626.1 863.5,623.1 864.5,619.8 865.5,618.4 866.5,616.3 867.5,615.7 868.5,617.7 869.5,616.5 870.5,615.3 871.5,618.8 872.5,621.2 873.5,621.1 874.5,622.2 875.5,624.4 876.5,626.8 877.5,628.5 878.5,629.8 879.5,630.6 880.5,631.2 881.5,631.8 882.5,631.0 883.5,629.1 884.5,630.9 885.5,632.1 886.5,632.2 887.5,633.7 888.5,632.8 889.5,632.8 890.5,635.7 891.5,635.7 892.5,635.5 893.5,636.6 894.5,637.1 895.5,635.9 896.5,633.1 897.5,634.9 898.5,635.7 899.5,635.7 900.5,637.5 901.5,638.8 902.5,637.1 903.5,636.9 904.5,640.0 905.5,637.9 906.5,636.8 907.5,638.6 908.5,639.0 909.5,638.2 910.5,639.5 911.5,638.3 912.5,637.9 913.5,639.3 914.5,640.1 915.5,638.9 916.5,639.7 917.5,640.3 918.5,642.8 919.5,640.0 920.5,641.3 921.5,640.2 922.5,640.1 923.5,641.2 924.5,641.8 925.5,642.1 926.5,640.9 927.5,639.7 928.5,639.9 929.5,641.2 930.5,641.9 931.5,642.7 932.5,641.9 933.5,642.6 934.5,643.0 935.5,641.2 936.5,639.0 937.5,638.9 938.5,639.5 939.5,642.5 940.5,640.9 941.5,642.6 942.5,642.7 943.5,643.8 944.5,642.9 945.5,641.4 946.5,641.1 947.5,641.5 948.5,641.5 949.5,640.8 950.5,641.6 951.5,642.8 952.5,639.7 953.5,640.8 954.5,640.0 955.5,641.0 956.5,641.5 957.5,640.5 958.5,640.2 959.5,637.0 960.5,637.3 961.5,634.1 962.5,633.0 963.5,630.6 964.5,627.0 965.5,629.2 966.5,632.6 967.5,636.2 968.5,637.6 969.5,639.4 970.5,640.7 971.5,645.8 972.5,647.8 973.5,646.2 974.5,645.4 975.5,644.6 976.5,648.0 977.5,650.6 978.5,649.1 979.5,649.3 980.5,648.5 981.5,647.3 982.5,649.3 983.5,647.3 984.5,648.2 985.5,649.4 986.5,650.3 987.5,650.0 988.5,649.8 989.5,648.4 990.5,648.0 991.5,649.4 992.5,648.8 993.5,648.1 994.5,648.3 995.5,649.0 996.5,647.8 997.5,648.1 998.5,648.4 999.5,650.7 1000.5,651.9 1001.5,653.1 1002.5,649.6 1003.5,650.2 1004.5,652.1 1005.5,651.2 1006.5,651.4 1007.5,653.3 1008.5,651.3 1009.5,649.8 1010.5,649.9 1011.5,651.9 1012.5,652.0 1013.5,650.1 1014.5,650.6 1015.5,652.6 1016.5,652.9 1017.5,651.8 1018.5,653.1 1019.5,652.9 1020.5,650.5 1021.5,652.0 1022.5,653.0 1023.5,651.8 1024.5,650.2 1025.5,652.4 1026.5,654.4 1027.5,654.8 1028.5,651.9 1029.5,655.8 1030.5,653.2 1031.5,654.9 1032.5,655.8 1033.5,655.5 1034.5,654.2 1035.5,653.0 1036.5,654.5 1037.5,653.0 1038.5,652.0 1039.5,657.5 1040.5,656.7 1041.5,656.9 1042.5,654.6 1043.5,656.9 1044.5,657.7 1045.5,657.4 1046.5,655.3 1047.5,653.9 1048.5,654.4 1049.5,652.4 1050.5,653.0 1051.5,655.1 1052.5,654.6 1053.5,655.4 1054.5,656.3 1055.5,658.6 1056.5,658.1 1057.5,656.7 1058.5,657.5 1059.5,655.6 1060.5,656.0 1061.5,657.1 1062.5,655.2 1063.5,655.5 1064.5,655.0 1065.5,656.8 1066.5,658.5 1067.5,656.3 1068.5,656.6 1069.5,655.5 1070.5,654.9 1071.5,655.4 1072.5,658.9 1073.5,660.2 1074.5,657.9 1075.5,656.3 1076.5,657.5 1077.5,656.9 1078.5,657.8 1079.5,657.5 1080.5,657.5 1081.5,657.5 1082.5,656.3 1083.5,655.8 1084.5,654.6 1085.5,655.6 1086.5,655.0 1087.5,656.1 1088.5,655.7 1089.5,656.9 1090.5,657.1 1091.5,655.1 1092.5,655.3 1093.5,655.7 1094.5,657.9 1095.5,659.3 1096.5,658.2 1097.5,657.0 1098.5,658.1 1099.5,655.8 1100.5,658.1 1101.5,655.7 1102.5,654.0 1103.5,659.7 1104.5,659.1 1105.5,656.0 1106.5,656.7 1107.5,656.6 1108.5,656.4 1109.5,654.8 1110.5,655.7 1111.5,657.2 1112.5,657.4 1113.5,658.2 1114.5,657.7 1115.5,659.3 1116.5,656.5 1117.5,656.3 1118.5,654.1 1119.5,655.0 1120.5,657.6 1121.5,655.9 1122.5,656.9 1123.5,656.3 1124.5,655.2 1125.5,655.7 1126.5,655.7 1127.5,656.0 1128.5,657.4 1129.5,657.2 1130.5,655.7 1131.5,655.2 1132.5,656.4 1133.5,656.5 1134.5,658.2 1135.5,659.9 1136.5,657.9 1137.5,656.4 1138.5,655.8 1139.5,654.9 1140.5,654.6 1141.5,654.6 1142.5,655.2 1143.5,655.6 1144.5,656.7 1145.5,655.6 1146.5,655.0 1147.5,654.2 1148.5,656.5 1149.5,655.5 1150.5,655.8 1151.5,654.5 1152.5,654.0 1153.5,651.9 1154.5,652.8 1155.5,654.3 1156.5,650.9 1157.5,653.2 1158.5,654.7 1159.5,654.1 1160.5,655.0 1161.5,656.0 1162.5,654.7 1163.5,655.7 1164.5,654.8 1165.5,654.8 1166.5,655.1 1167.5,655.9 1168.5,656.5 1169.5,656.5 1170.5,655.3 1171.5,658.8 1172.5,658.6 1173.5,657.6 1174.5,656.3 1175.5,656.6 1176.5,657.4 1177.5,656.9 1178.5,655.0 1179.5,658.0 1180.5,660.1 1181.5,655.6 1182.5,657.7 1183.5,657.5 1184.5,657.2 1185.5,658.2 1186.5,655.8 1187.5,657.2 1188.5,658.7 1189.5,656.9 1190.5,656.3 1191.5,656.6 1192.5,656.4 1193.5,657.8 1194.5,655.5 1195.5,656.1 1196.5,654.0 1197.5,655.2 1198.5,653.6 1199.5,650.5 1200.5,652.2 1201.5,651.1 1202.5,651.5 1203.5,652.8 1204.5,649.5 1205.5,648.9 1206.5,651.0 1207.5,649.5 1208.5,649.5 1209.5,646.8 1210.5,643.8 1211.5,643.3 1212.5,643.6 1213.5,641.8 1214.5,639.2 1215.5,637.7 1216.5,636.2 1217.5,635.3 1218.5,637.1 1219.5,634.7 1220.5,633.0 1221.5,634.4 1222.5,637.2 1223.5,638.7 1224.5,639.5 1225.5,640.8 1226.5,643.2 1227.5,643.3 1228.5,645.6 1229.5,649.2 1230.5,649.3 1231.5,650.5 1232.5,651.5 1233.5,650.8 1234.5,650.2 1235.5,652.0 1236.5,650.3 1237.5,648.7 1238.5,649.3 1239.5,648.6 1240.5,646.9 1241.5,647.2 1242.5,646.1 1243.5,643.7 1244.5,644.8 1245.5,644.5 1246.5,643.5 1247.5,642.0 1248.5,643.3 1249.5,644.2 1250.5,644.4 1251.5,643.7 1252.5,645.5 1253.5,644.5 1254.5,646.2 1255.5,648.5 1256.5,647.1 1257.5,647.9 1258.5,650.2 1259.5,649.6 1260.5,650.1 1261.5,651.5 1262.5,652.4 1263.5,649.4 1264.5,650.6 1265.5,651.0 1266.5,651.2 1267.5,651.7 1268.5,652.3 1269.5,653.7 1270.5,653.0 1271.5,654.2 1272.5,654.8 1273.5,653.9 1274.5,655.3 1275.5,657.2 1276.5,655.9 1277.5,654.7 1278.5,655.1 1279.5,654.7 1280.5,656.3 1281.5,657.0 1282.5,655.4 1283.5,656.2 1284.5,657.6 1285.5,656.3 1286.5,656.5 1287.5,655.3 1288.5,655.4 1289.5,656.6 1290.5,659.3 1291.5,656.9 1292.5,656.1 1293.5,656.2 1294.5,656.9 1295.5,657.9 1296.5,658.1 1297.5,659.8 1298.5,658.4 1299.5,659.2 1300.5,658.2 1301.5,657.8 1302.5,655.8 1303.5,656.9 1304.5,657.3 1305.5,656.7 1306.5,655.2 1307.5,658.0 1308.5,657.3 1309.5,657.0 1310.5,657.2 1311.5,657.5 1312.5,657.9 1313.5,656.2 1314.5,656.5 1315.5,658.0 1316.5,658.0 1317.5,657.4 1318.5,657.0 1319.5,656.8 1320.5,658.0 1321.5,659.1 1322.5,657.5 1323.5,659.8 1324.5,659.4 1325.5,658.0 1326.5,658.6 1327.5,656.2 1328.5,655.4 1329.5,656.1 1330.5,657.3 1331.5,657.6 1332.5,657.6 1333.5,657.7 1334.5,655.9 1335.5,658.0 1336.5,656.6 1337.5,657.1 1338.5,657.4 1339.5,656.6 1340.5,656.2 1341.5,656.9 1342.5,658.3 1343.5,659.3 1344.5,659.0 1345.5,657.2 1346.5,657.1 1347.5,657.3 1348.5,658.3 1349.5,656.5 1350.5,659.4 1351.5,658.1 1352.5,657.6 1353.5,659.0 1354.5,660.0 1355.5,659.5 1356.5,659.9 1357.5,659.3 1358.5,660.4 1359.5,660.4 1360.5,659.2 1361.5,660.3 1362.5,659.2 1363.5,658.5 1364.5,657.5 1365.5,658.2 1366.5,659.1 1367.5,657.4 1368.5,659.1 1369.5,659.3 1370.5,658.5 1371.5,656.0 1372.5,658.1 1373.5,659.2 1374.5,657.9 1375.5,657.9 1376.5,656.0 1377.5,658.6 1378.5,658.2 1379.5,659.0 1380.5,656.8 1381.5,658.9 1382.5,658.7 1383.5,659.3 1384.5,657.5 1385.5,658.2 1386.5,660.9 1387.5,658.0 1388.5,657.5 1389.5,657.8 1390.5,657.6 1391.5,660.2 1392.5,660.8 1393.5,657.8 1394.5,656.7 1395.5,659.8 1396.5,660.4 1397.5,660.2 1398.5,660.0 1399.5,657.8 1400.5,657.8 1401.5,656.5 1402.5,656.8 1403.5,659.2 1404.5,658.6 1405.5,661.2 1406.5,659.1 1407.5,658.1 1408.5,659.8 1409.5,661.1 1410.5,659.3 1411.5,657.4 1412.5,659.1 1413.5,660.2 1414.5,658.2 1415.5,657.8 1416.5,659.6 1417.5,658.7 1418.5,657.2 1419.5,657.7 1420.5,657.7 1421.5,658.8 1422.5,659.1 1423.5,660.2 1424.5,659.3 1425.5,657.0 1426.5,658.9 1427.5,659.9 1428.5,659.6 1429.5,659.8 1430.5,658.0 1431.5,657.6 1432.5,659.2 1433.5,657.0 1434.5,656.0 1435.5,659.1 1436.5,657.9 1437.5,657.7 1438.5,656.5 1439.5,656.4 1440.5,656.8 1441.5,658.0 1442.5,658.4 1443.5,656.2 1444.5,658.6 1445.5,657.1 1446.5,657.2 1447.5,659.1 1448.5,658.3 1449.5,657.2 1450.5,660.2 1451.5,658.1 1452.5,658.7 1453.5,659.0 1454.5,659.7 1455.5,657.8 1456.5,658.1 1457.5,656.4 1458.5,657.1 1459.5,654.8 1460.5,654.7 1461.5,656.5 1462.5,654.4 1463.5,653.7 1464.5,655.1 1465.5,652.5 1466.5,650.4 1467.5,650.8 1468.5,648.7 1469.5,650.1 1470.5,649.5 1471.5,646.6 1472.5,645.5 1473.5,645.7 1474.5,644.9 1475.5,643.6 1476.5,644.3 1477.5,641.9 1478.5,643.4 1479.5,644.5 1480.5,645.7 1481.5,647.1 1482.5,647.2 1483.5,650.1 1484.5,651.0 1485.5,651.5 1486.5,652.0 1487.5,653.8 1488.5,656.5 1489.5,656.5 1490.5,658.3 1491.5,660.1 1492.5,660.7 1493.5,661.0 1494.5,658.9 1495.5,658.3 1496.5,660.6 1497.5,660.6 1498.5,661.3 1499.5,660.6 1500.5,661.8 1501.5,661.8 1502.5,661.7 1503.5,661.5 1504.5,661.4 1505.5,661.4 1506.5,661.6 1507.5,662.3 1508.5,661.4 1509.5,663.3 1510.5,662.1 1511.5,662.7 1512.5,661.8 1513.5,662.0 1514.5,664.2 1515.5,661.8 1516.5,660.3 1517.5,660.9 1518.5,662.2 1519.5,664.8 1520.5,663.4 1521.5,663.3 1522.5,661.6 1523.5,662.9 1524.5,663.9 1525.5,664.8 1526.5,662.5 1527.5,663.3 1528.5,663.0 1529.5,661.6 1530.5,662.5 1531.5,661.9 1532.5,660.2 1533.5,663.1 1534.5,663.6 1535.5,662.2 1536.5,661.6 1537.5,664.4 1538.5,663.9 1539.5,664.5 1540.5,664.7 1541.5,662.8 1542.5,663.7 1543.5,662.8 1544.5,662.7 1545.5,662.8 1546.5,663.1 1547.5,664.2 1548.5,663.3 1549.5,662.7 1550.5,662.6 1551.5,663.0 1552.5,661.8 1553.5,662.0 1554.5,662.5 1555.5,662.1 1556.5,662.4 1557.5,662.6 1558.5,665.4 1559.5,665.0 1560.5,663.7 1561.5,663.4 1562.5,665.5 1563.5,663.7 1564.5,662.8 1565.5,663.2 1566.5,663.6 1567.5,664.5 1568.5,663.6 1569.5,665.0 1570.5,662.4 1571.5,663.1 1572.5,662.2 1573.5,664.5 1574.5,662.7 1575.5,662.8 1576.5,664.1 1577.5,664.1 1578.5,661.5 1579.5,661.6 1580.5,660.9 1581.5,662.4 1582.5,662.4 1583.5,661.9 1584.5,661.5 1585.5,661.7 1586.5,661.6 1587.5,663.3 1588.5,663.9 1589.5,660.5 1590.5,661.7 1591.5,662.0 1592.5,662.6 1593.5,661.3 1594.5,661.7 1595.5,661.2 1596.5,662.9 1597.5,662.5 1598.5,662.2 1599.5,662.6 1600.5,661.6 1601.5,660.4 1602.5,662.5 1603.5,662.6 1604.5,662.2 1605.5,663.5 1606.5,663.5 1607.5,660.8 1608.5,661.2 1609.5,664.0 1610.5,663.8 1611.5,661.1 1612.5,660.1 1613.5,660.6 1614.5,660.6 1615.5,659.8 1616.5,661.0 1617.5,659.9 1618.5,660.1 1619.5,662.2 1620.5,661.0 1621.5,661.5 1622.5,662.5 1623.5,662.5 1624.5,661.2 1625.5,660.9 1626.5,660.4 1627.5,662.7 1628.5,661.3 1629.5,658.8 1630.5,659.5 1631.5,660.2 1632.5,660.0 1633.5,661.0 1634.5,659.9 1635.5,657.2 1636.5,656.6 1637.5,655.3 1638.5,656.5 1639.5,657.2 1640.5,659.3 1641.5,656.2 1642.5,653.2 1643.5,654.5 1644.5,655.8 1645.5,655.1 1646.5,656.2 1647.5,658.1 1648.5,660.0 1649.5,660.5 1650.5,661.0 1651.5,663.4 1652.5,663.0 1653.5,663.0 1654.5,662.3 1655.5,663.2 1656.5,664.6 1657.5,662.7 1658.5,664.2 1659.5,665.3 1660.5,664.4 1661.5,664.5 1662.5,663.7 1663.5,666.2 1664.5,666.4 1665.5,664.9 1666.5,662.5 1667.5,663.4 1668.5,666.2 1669.5,667.3 1670.5,666.0 1671.5,666.4 1672.5,664.5 1673.5,664.6 1674.5,665.1 1675.5,665.2 1676.5,663.6 1677.5,666.2 1678.5,666.7 1679.5,663.8 1680.5,663.4 1681.5,665.1 1682.5,664.0 1683.5,662.5 1684.5,665.7 1685.5,665.6 1686.5,665.4 1687.5,667.8 1688.5,665.9 1689.5,664.6 1690.5,665.1 1691.5,664.1 1692.5,664.4 1693.5,665.6 1694.5,664.8 1695.5,665.3 1696.5,667.6 1697.5,667.2 1698.5,666.9 1699.5,666.5 1700.5,666.7 1701.5,667.5 1702.5,666.4 1703.5,667.6 1704.5,664.9 1705.5,664.8 1706.5,663.9 1707.5,665.0 1708.5,666.6 1709.5,667.4 1710.5,665.3 1711.5,665.5 1712.5,665.1 1713.5,664.5 1714.5,664.1 1715.5,665.1 1716.5,663.7 1717.5,665.4 1718.5,665.6 1719.5,664.7 1720.5,664.0 1721.5,664.3 1722.5,667.3 1723.5,665.1 1724.5,667.4 1725.5,666.8 1726.5,665.2 1727.5,664.6 1728.5,667.2 1729.5,667.9 1730.5,665.0 1731.5,665.5 1732.5,667.1 1733.5,667.0 1734.5,668.1 1735.5,665.8 1736.5,666.0 1737.5,665.0 1738.5,667.8 1739.5,664.9 1740.5,663.0 1741.5,665.1 1742.5,666.1 1743.5,668.0 1744.5,665.9 1745.5,665.8 1746.5,666.9 1747.5,667.8 1748.5,666.4 1749.5,667.2 1750.5,666.6 1751.5,665.6 1752.5,665.8 1753.5,665.6 1754.5,665.0 1755.5,666.7 1756.5,664.8 1757.5,667.1 1758.5,667.2 1759.5,665.7 1760.5,664.8 1761.5,665.5 1762.5,666.5 1763.5,666.9 1764.5,666.6 1765.5,666.9 1766.5,665.4 1767.5,665.5 1768.5,664.2 1769.5,666.3 1770.5,666.1 1771.5,665.6 1772.5,667.3 1773.5,666.2 1774.5,662.6 1775.5,664.8 1776.5,664.4 1777.5,667.3 1778.5,668.9 1779.5,665.8 1780.5,665.7 1781.5,665.6 1782.5,666.3 1783.5,667.0 1784.5,667.2 1785.5,665.4 1786.5,667.2 1787.5,665.2 1788.5,666.2 1789.5,667.4 1790.5,666.7 1791.5,664.7 1792.5,664.6 1793.5,665.1 1794.5,665.9 1795.5,666.8 1796.5,664.7 1797.5,666.2 1798.5,666.8 1799.5,666.7 1800.5,666.9 1801.5,667.9 1802.5,667.0 1803.5,667.1 1804.5,667.1 1805.5,667.6 1806.5,664.3 1807.5,666.8 1808.5,665.7 1809.5,665.2 1810.5,664.1 1811.5,663.2 1812.5,664.7 1813.5,665.0 1814.5,665.8 1815.5,664.5 1816.5,667.2 1817.5,666.4 1818.5,665.4 1819.5,664.7 1820.5,664.4 1821.5,664.1 1822.5,664.9 1823.5,665.6 1824.5,665.2 1825.5,664.0 1826.5,664.9 1827.5,664.7 1828.5,666.2 1829.5,668.2 1830.5,666.9 1831.5,665.2 1832.5,663.4 1833.5,663.3 1834.2,663.4" stroke="#ff0000"/>
<path d="M741.5,802.3 742.5,800.9 743.5,801.6 744.5,801.6 745.5,803.1 746.5,804.7 747.5,803.1 748.5,803.3 749.5,803.7 750.5,805.5 751.5,804.1 752.5,803.8 753.5,803.9 754.5,804.7 755.5,807.9 756.5,810.3 757.5,807.5 758.5,809.1 759.5,808.8 760.5,807.6 761.5,808.6 762.5,809.1 763.5,809.6 764.5,811.9 765.5,808.9 766.5,811.0 767.5,811.6 768.5,810.9 769.5,812.1 770.5,813.2 771.5,812.9 772.5,813.4 773.5,813.4 774.5,811.4 775.5,815.4 776.5,817.3 777.5,816.2 778.5,815.6 779.5,813.4 780.5,814.4 781.5,814.3 782.5,815.1 783.5,816.8 784.5,815.6 785.5,815.8 786.5,814.6 787.5,816.6 788.5,817.4 789.5,816.8 790.5,817.5 791.5,820.1 792.5,817.4 793.5,817.1 794.5,818.2 795.5,821.1 796.5,822.5 797.5,820.6 798.5,819.2 799.5,819.9 800.5,821.5 801.5,820.3 802.5,822.8 803.5,823.2 804.5,821.9 805.5,822.4 806.5,823.1 807.5,823.5 808.5,821.4 809.5,823.1 810.5,821.8 811.5,821.3 812.5,822.2 813.5,821.9 814.5,820.8 815.5,820.1 816.5,821.4 817.5,824.6 818.5,825.5 819.5,824.1 820.5,823.9 821.5,821.9 822.5,821.9 823.5,821.7 824.5,819.8 825.5,819.4 826.5,820.1 827.5,819.1 828.5,817.8 829.5,818.5 830.5,817.6 831.5,817.1 832.5,814.0 833.5,810.9 834.5,808.5 835.5,805.5 836.5,802.1 837.5,799.6 838.5,797.7 839.5,794.7 840.5,791.2 841.5,784.7 842.5,782.0 843.5,779.1 844.5,776.5 845.5,772.8 846.5,769.5 847.5,767.3 848.5,763.1 849.5,758.8 850.5,758.9 851.5,757.1 852.5,755.1 853.5,758.0 854.5,761.0 855.5,767.7 856.5,772.1 857.5,776.8 858.5,783.9 859.5,791.2 860.5,799.1 861.5,805.4 862.5,811.7 863.5,816.5 864.5,819.0 865.5,825.8 866.5,826.2 867.5,828.8 868.5,830.5 869.5,829.8 870.5,829.2 871.5,829.6 872.5,829.8 873.5,829.6 874.5,829.6 875.5,830.0 876.5,832.3 877.5,831.9 878.5,832.6 879.5,831.7 880.5,831.9 881.5,832.0 882.5,833.0 883.5,833.6 884.5,832.9 885.5,831.7 886.5,832.1 887.5,834.6 888.5,833.0 889.5,833.1 890.5,835.2 891.5,835.1 892.5,834.2 893.5,833.7 894.5,836.3 895.5,834.8 896.5,834.3 897.5,833.3 898.5,831.7 899.5,831.9 900.5,834.0 901.5,834.3 902.5,833.4 903.5,832.0 904.5,831.8 905.5,832.8 906.5,832.3 907.5,834.9 908.5,836.2 909.5,837.7 910.5,835.4 911.5,832.9 912.5,831.3 913.5,828.5 914.5,831.0 915.5,832.1 916.5,833.0 917.5,832.3 918.5,831.5 919.5,830.5 920.5,830.5 921.5,830.2 922.5,826.7 923.5,825.8 924.5,824.7 925.5,827.1 926.5,826.4 927.5,824.2 928.5,821.1 929.5,821.1 930.5,820.0 931.5,819.1 932.5,817.4 933.5,816.1 934.5,813.3 935.5,812.0 936.5,809.1 937.5,805.9 938.5,803.4 939.5,800.1 940.5,797.7 941.5,793.7 942.5,791.5 943.5,789.6 944.5,790.5 945.5,797.0 946.5,801.3 947.5,808.3 948.5,812.4 949.5,814.7 950.5,819.8 951.5,824.7 952.5,827.7 953.5,829.8 954.5,833.1 955.5,833.9 956.5,835.3 957.5,835.7 958.5,836.9 959.5,836.6 960.5,837.8 961.5,838.8 962.5,838.1 963.5,837.0 964.5,836.1 965.5,836.9 966.5,836.7 967.5,835.1 968.5,834.0 969.5,835.2 970.5,836.4 971.5,833.0 972.5,832.5 973.5,831.5 974.5,828.3 975.5,830.4 976.5,830.7 977.5,832.7 978.5,831.4 979.5,830.9 980.5,832.0 981.5,832.9 982.5,832.9 983.5,833.6 984.5,833.2 985.5,835.1 986.5,837.6 987.5,839.6 988.5,838.9 989.5,838.9 990.5,840.4 991.5,841.0 992.5,842.0 993.5,841.4 994.5,840.2 995.5,840.6 996.5,841.0 997.5,841.4 998.5,841.3 999.5,840.1 1000.5,838.9 1001.5,840.2 1002.5,839.7 1003.5,842.1 1004.5,842.4 1005.5,841.2 1006.5,843.9 1007.5,844.7 1008.5,844.5 1009.5,846.4 1010.5,846.4 1011.5,843.6 1012.5,845.5 1013.5,845.5 1014.5,845.6 1015.5,845.9 1016.5,844.1 1017.5,843.9 1018.5,843.7 1019.5,843.9 1020.5,844.4 1021.5,843.1 1022.5,843.6 1023.5,845.5 1024.5,845.3 1025.5,845.0 1026.5,842.7 1027.5,843.5 1028.5,844.2 1029.5,844.8 1030.5,844.6 1031.5,846.0 1032.5,845.2 1033.5,845.0 1034.5,845.2 1035.5,845.7 1036.5,844.9 1037.5,846.3 1038.5,845.8 1039.5,845.3 1040.5,845.1 1041.5,845.8 1042.5,846.5 1043.5,846.3 1044.5,845.8 1045.5,846.0 1046.5,845.5 1047.5,846.3 1048.5,844.5 1049.5,842.6 1050.5,845.8 1051.5,844.8 1052.5,843.2 1053.5,843.9 1054.5,844.0 1055.5,847.0 1056.5,845.2 1057.5,842.9 1058.5,844.6 1059.5,844.6 1060.5,846.3 1061.5,843.0 1062.5,841.4 1063.5,843.7 1064.5,843.7 1065.5,843.1 1066.5,841.6 1067.5,844.5 1068.5,845.7 1069.5,842.5 1070.5,844.8 1071.5,844.2 1072.5,846.7 1073.5,844.9 1074.5,844.0 1075.5,845.2 1076.5,844.5 1077.5,843.3 1078.5,844.2 1079.5,842.6 1080.5,841.7 1081.5,845.2 1082.5,843.1 1083.5,842.3 1084.5,842.7 1085.5,840.6 1086.5,840.4 1087.5,841.3 1088.5,841.4 1089.5,842.2 1090.5,843.0 1091.5,841.3 1092.5,841.9 1093.5,841.6 1094.5,839.7 1095.5,840.3 1096.5,839.5 1097.5,841.2 1098.5,840.6 1099.5,839.3 1100.5,837.7 1101.5,838.6 1102.5,838.0 1103.5,839.1 1104.5,838.1 1105.5,837.2 1106.5,838.8 1107.5,838.3 1108.5,836.8 1109.5,837.8 1110.5,836.1 1111.5,835.4 1112.5,835.2 1113.5,833.9 1114.5,833.7 1115.5,834.1 1116.5,835.7 1117.5,835.1 1118.5,833.0 1119.5,833.9 1120.5,832.1 1121.5,831.9 1122.5,832.0 1123.5,831.6 1124.5,833.0 1125.5,830.3 1126.5,828.3 1127.5,830.2 1128.5,828.6 1129.5,827.4 1130.5,825.1 1131.5,829.0 1132.5,829.7 1133.5,829.7 1134.5,830.4 1135.5,831.3 1136.5,830.4 1137.5,831.5 1138.5,830.8 1139.5,832.2 1140.5,834.9 1141.5,835.0 1142.5,834.2 1143.5,836.5 1144.5,836.9 1145.5,836.8 1146.5,838.3 1147.5,837.3 1148.5,835.8 1149.5,836.8 1150.5,839.5 1151.5,836.8 1152.5,838.1 1153.5,839.0 1154.5,838.7 1155.5,836.7 1156.5,837.4 1157.5,838.3 1158.5,838.8 1159.5,837.1 1160.5,836.6 1161.5,839.1 1162.5,839.5 1163.5,838.4 1164.5,837.3 1165.5,838.1 1166.5,838.1 1167.5,838.4 1168.5,836.4 1169.5,837.3 1170.5,837.1 1171.5,836.1 1172.5,837.4 1173.5,837.3 1174.5,836.9 1175.5,837.2 1176.5,835.5 1177.5,836.7 1178.5,837.5 1179.5,837.5 1180.5,837.8 1181.5,835.1 1182.5,834.5 1183.5,836.4 1184.5,837.5 1185.5,839.0 1186.5,837.1 1187.5,835.3 1188.5,836.3 1189.5,834.5 1190.5,834.2 1191.5,838.2 1192.5,836.5 1193.5,836.2 1194.5,836.3 1195.5,837.2 1196.5,835.7 1197.5,835.7 1198.5,833.0 1199.5,832.5 1200.5,835.6 1201.5,835.6 1202.5,833.4 1203.5,831.3 1204.5,829.2 1205.5,826.6 1206.5,826.4 1207.5,823.3 1208.5,820.1 1209.5,817.3 1210.5,814.8 1211.5,809.8 1212.5,803.5 1213.5,795.1 1214.5,790.3 1215.5,785.7 1216.5,777.7 1217.5,773.9 1218.5,773.4 1219.5,774.3 1220.5,775.8 1221.5,777.3 1222.5,783.5 1223.5,787.2 1224.5,792.5 1225.5,798.5 1226.5,801.8 1227.5,807.4 1228.5,814.1 1229.5,816.0 1230.5,818.8 1231.5,820.2 1232.5,822.5 1233.5,823.7 1234.5,824.3 1235.5,823.5 1236.5,823.4 1237.5,823.0 1238.5,821.0 1239.5,819.0 1240.5,818.2 1241.5,818.9 1242.5,817.8 1243.5,817.6 1244.5,816.4 1245.5,814.1 1246.5,813.7 1247.5,811.9 1248.5,815.5 1249.5,815.0 1250.5,813.2 1251.5,812.8 1252.5,814.7 1253.5,813.7 1254.5,816.0 1255.5,819.1 1256.5,819.9 1257.5,820.8 1258.5,823.2 1259.5,823.0 1260.5,825.2 1261.5,825.7 1262.5,826.6 1263.5,828.8 1264.5,829.0 1265.5,832.2 1266.5,831.1 1267.5,833.0 1268.5,830.5 1269.5,831.2 1270.5,829.4 1271.5,829.1 1272.5,831.0 1273.5,831.4 1274.5,829.8 1275.5,831.6 1276.5,830.0 1277.5,830.6 1278.5,831.1 1279.5,830.7 1280.5,828.7 1281.5,831.8 1282.5,831.0 1283.5,829.4 1284.5,828.2 1285.5,827.2 1286.5,827.9 1287.5,830.0 1288.5,829.2 1289.5,828.1 1290.5,829.2 1291.5,831.3 1292.5,829.6 1293.5,829.3 1294.5,831.3 1295.5,830.6 1296.5,829.7 1297.5,828.6 1298.5,827.4 1299.5,827.8 1300.5,828.8 1301.5,829.4 1302.5,830.2 1303.5,830.5 1304.5,830.2 1305.5,829.8 1306.5,828.0 1307.5,826.8 1308.5,828.3 1309.5,828.3 1310.5,828.7 1311.5,828.9 1312.5,827.9 1313.5,828.1 1314.5,829.4 1315.5,829.7 1316.5,829.2 1317.5,830.2 1318.5,829.4 1319.5,828.5 1320.5,830.1 1321.5,831.9 1322.5,829.8 1323.5,831.4 1324.5,832.1 1325.5,831.8 1326.5,829.8 1327.5,832.1 1328.5,830.4 1329.5,829.5 1330.5,829.7 1331.5,830.5 1332.5,830.0 1333.5,830.0 1334.5,831.2 1335.5,829.1 1336.5,828.7 1337.5,830.8 1338.5,831.2 1339.5,831.1 1340.5,829.2 1341.5,831.1 1342.5,831.2 1343.5,831.8 1344.5,829.0 1345.5,829.8 1346.5,829.3 1347.5,827.8 1348.5,829.0 1349.5,831.0 1350.5,829.5 1351.5,829.2 1352.5,831.1 1353.5,831.6 1354.5,831.2 1355.5,829.3 1356.5,830.0 1357.5,831.0 1358.5,829.3 1359.5,829.1 1360.5,831.2 1361.5,831.8 1362.5,828.4 1363.5,826.2 1364.5,827.4 1365.5,828.4 1366.5,829.7 1367.5,830.7 1368.5,829.8 1369.5,829.2 1370.5,829.8 1371.5,828.9 1372.5,829.5 1373.5,829.9 1374.5,833.2 1375.5,831.4 1376.5,828.9 1377.5,828.4 1378.5,828.7 1379.5,827.7 1380.5,828.4 1381.5,829.1 1382.5,830.7 1383.5,829.4 1384.5,828.5 1385.5,827.8 1386.5,828.1 1387.5,829.4 1388.5,829.8 1389.5,830.9 1390.5,829.6 1391.5,830.9 1392.5,830.3 1393.5,829.3 1394.5,827.0 1395.5,827.8 1396.5,830.6 1397.5,831.5 1398.5,830.4 1399.5,830.4 1400.5,829.2 1401.5,828.8 1402.5,828.8 1403.5,830.5 1404.5,830.0 1405.5,829.1 1406.5,829.0 1407.5,830.0 1408.5,829.6 1409.5,828.8 1410.5,831.1 1411.5,829.9 1412.5,829.6 1413.5,831.1 1414.5,830.6 1415.5,829.3 1416.5,829.3 1417.5,827.6 1418.5,827.2 1419.5,826.2 1420.5,829.1 1421.5,826.9 1422.5,828.7 1423.5,827.5 1424.5,826.8 1425.5,827.3 1426.5,827.4 1427.5,827.4 1428.5,827.4 1429.5,825.0 1430.5,823.6 1431.5,821.0 1432.5,820.6 1433.5,818.6 1434.5,816.4 1435.5,815.2 1436.5,813.9 1437.5,812.9 1438.5,811.6 1439.5,809.3 1440.5,808.1 1441.5,808.2 1442.5,805.1 1443.5,805.7 1444.5,807.0 1445.5,802.8 1446.5,804.6 1447.5,807.0 1448.5,806.9 1449.5,811.7 1450.5,809.6 1451.5,815.1 1452.5,818.1 1453.5,819.0 1454.5,819.3 1455.5,820.7 1456.5,820.6 1457.5,821.9 1458.5,819.9 1459.5,819.9 1460.5,820.0 1461.5,816.5 1462.5,815.2 1463.5,813.6 1464.5,810.4 1465.5,810.4 1466.5,807.2 1467.5,802.7 1468.5,801.4 1469.5,798.5 1470.5,796.4 1471.5,795.0 1472.5,792.8 1473.5,792.5 1474.5,790.0 1475.5,790.3 1476.5,789.2 1477.5,789.5 1478.5,788.3 1479.5,788.5 1480.5,789.2 1481.5,792.5 1482.5,795.2 1483.5,798.3 1484.5,799.3 1485.5,799.9 1486.5,801.4 1487.5,804.2 1488.5,806.6 1489.5,810.4 1490.5,812.0 1491.5,811.9 1492.5,814.2 1493.5,818.2 1494.5,819.0 1495.5,819.8 1496.5,822.1 1497.5,821.4 1498.5,821.8 1499.5,821.8 1500.5,821.4 1501.5,824.5 1502.5,823.5 1503.5,824.3 1504.5,825.2 1505.5,827.2 1506.5,827.2 1507.5,827.1 1508.5,826.0 1509.5,827.5 1510.5,827.1 1511.5,829.2 1512.5,829.9 1513.5,830.2 1514.5,832.3 1515.5,831.2 1516.5,830.9 1517.5,830.3 1518.5,830.1 1519.5,831.4 1520.5,831.2 1521.5,829.0 1522.5,831.0 1523.5,831.1 1524.5,831.4 1525.5,830.5 1526.5,828.3 1527.5,828.7 1528.5,831.9 1529.5,830.4 1530.5,828.4 1531.5,829.9 1532.5,829.1 1533.5,827.1 1534.5,826.3 1535.5,827.5 1536.5,829.8 1537.5,829.9 1538.5,829.7 1539.5,830.3 1540.5,830.1 1541.5,827.4 1542.5,828.8 1543.5,828.5 1544.5,828.0 1545.5,828.8 1546.5,829.5 1547.5,829.1 1548.5,827.9 1549.5,829.3 1550.5,831.8 1551.5,828.6 1552.5,827.5 1553.5,829.7 1554.5,830.6 1555.5,830.1 1556.5,828.7 1557.5,830.3 1558.5,828.6 1559.5,827.9 1560.5,828.5 1561.5,829.4 1562.5,830.5 1563.5,830.4 1564.5,829.8 1565.5,830.5 1566.5,830.0 1567.5,830.1 1568.5,827.5 1569.5,827.3 1570.5,829.4 1571.5,827.7 1572.5,828.5 1573.5,828.9 1574.5,828.4 1575.5,828.8 1576.5,830.0 1577.5,826.6 1578.5,830.0 1579.5,831.9 1580.5,829.5 1581.5,829.1 1582.5,830.2 1583.5,830.9 1584.5,827.9 1585.5,828.5 1586.5,828.6 1587.5,829.3 1588.5,829.1 1589.5,829.2 1590.5,827.9 1591.5,827.5 1592.5,826.2 1593.5,825.4 1594.5,825.1 1595.5,824.0 1596.5,822.4 1597.5,823.8 1598.5,820.9 1599.5,818.4 1600.5,819.3 1601.5,816.7 1602.5,816.3 1603.5,814.8 1604.5,813.7 1605.5,812.2 1606.5,810.3 1607.5,810.3 1608.5,810.7 1609.5,805.9 1610.5,806.9 1611.5,806.9 1612.5,804.7 1613.5,804.5 1614.5,807.9 1615.5,806.6 1616.5,809.0 1617.5,808.4 1618.5,808.6 1619.5,810.2 1620.5,812.0 1621.5,814.0 1622.5,814.8 1623.5,815.8 1624.5,817.7 1625.5,820.4 1626.5,821.1 1627.5,820.2 1628.5,821.5 1629.5,823.4 1630.5,823.2 1631.5,823.4 1632.5,823.1 1633.5,824.1 1634.5,825.4 1635.5,826.1 1636.5,825.7 1637.5,827.5 1638.5,826.4 1639.5,829.3 1640.5,827.5 1641.5,826.2 1642.5,824.4 1643.5,822.1 1644.5,824.9 1645.5,826.5 1646.5,827.9 1647.5,825.3 1648.5,827.9 1649.5,826.5 1650.5,826.4 1651.5,823.5 1652.5,825.8 1653.5,826.2 1654.5,827.2 1655.5,826.5 1656.5,825.5 1657.5,827.7 1658.5,827.9 1659.5,827.9 1660.5,828.4 1661.5,828.4 1662.5,826.8 1663.5,824.9 1664.5,825.3 1665.5,828.4 1666.5,828.2 1667.5,827.2 1668.5,826.6 1669.5,827.0 1670.5,827.1 1671.5,826.6 1672.5,826.8 1673.5,829.6 1674.5,827.8 1675.5,826.2 1676.5,825.3 1677.5,826.2 1678.5,828.1 1679.5,828.2 1680.5,827.1 1681.5,827.1 1682.5,826.5 1683.5,826.1 1684.5,828.5 1685.5,828.5 1686.5,829.8 1687.5,826.6 1688.5,826.7 1689.5,827.7 1690.5,826.3 1691.5,824.6 1692.5,825.0 1693.5,826.3 1694.5,826.6 1695.5,826.3 1696.5,827.4 1697.5,827.4 1698.5,826.3 1699.5,825.6 1700.5,825.2 1701.5,826.1 1702.5,826.3 1703.5,825.3 1704.5,825.2 1705.5,823.9 1706.5,822.4 1707.5,822.8 1708.5,824.8 1709.5,825.0 1710.5,825.7 1711.5,824.2 1712.5,824.7 1713.5,825.1 1714.5,824.3 1715.5,822.2 1716.5,822.2 1717.5,822.2 1718.5,821.1 1719.5,822.5 1720.5,823.0 1721.5,821.8 1722.5,823.6 1723.5,821.4 1724.5,820.7 1725.5,820.4 1726.5,819.9 1727.5,820.9 1728.5,821.0 1729.5,822.4 1730.5,821.4 1731.5,820.7 1732.5,819.3 1733.5,817.9 1734.5,818.9 1735.5,818.7 1736.5,820.2 1737.5,819.9 1738.5,821.3 1739.5,820.5 1740.5,820.2 1741.5,819.4 1742.5,819.3 1743.5,819.8 1744.5,819.8 1745.5,818.2 1746.5,819.7 1747.5,821.8 1748.5,819.1 1749.5,818.1 1750.5,817.3 1751.5,817.0 1752.5,819.7 1753.5,819.1 1754.5,819.4 1755.5,821.5 1756.5,821.8 1757.5,818.5 1758.5,819.8 1759.5,819.7 1760.5,819.4 1761.5,819.3 1762.5,819.1 1763.5,820.7 1764.5,819.9 1765.5,819.5 1766.5,820.5 1767.5,820.2 1768.5,819.5 1769.5,819.7 1770.5,821.0 1771.5,819.8 1772.5,818.5 1773.5,817.6 1774.5,817.9 1775.5,817.5 1776.5,818.7 1777.5,818.6 1778.5,816.5 1779.5,818.5 1780.5,819.7 1781.5,819.0 1782.5,818.2 1783.5,820.1 1784.5,818.2 1785.5,817.1 1786.5,817.5 1787.5,819.1 1788.5,820.6 1789.5,820.9 1790.5,819.5 1791.5,817.7 1792.5,818.0 1793.5,818.1 1794.5,818.5 1795.5,817.3 1796.5,819.3 1797.5,820.3 1798.5,819.7 1799.5,819.9 1800.5,818.4 1801.5,817.7 1802.5,819.0 1803.5,821.4 1804.5,821.4 1805.5,820.1 1806.5,821.4 1807.5,820.5 1808.5,822.1 1809.5,821.2 1810.5,820.2 1811.5,821.2 1812.5,819.7 1813.5,819.0 1814.5,818.9 1815.5,820.8 1816.5,821.0 1817.5,820.9 1818.5,821.1 1819.5,822.8 1820.5,821.1 1821.5,820.9 1822.5,823.3 1823.5,823.9 1824.5,822.2 1825.5,819.9 1826.5,821.2 1827.5,822.9 1828.5,823.0 1829.5,824.1 1830.5,821.7 1831.5,823.2 1832.5,822.7 1833.5,824.3 1834.2,823.1" stroke="#00ff00"/>
<path d="M741.5,909.1 742.5,907.2 743.5,906.1 744.5,906.5 745.5,907.1 746.5,907.5 747.5,910.2 748.5,910.7 749.5,909.3 750.5,907.8 751.5,908.5 752.5,908.8 753.5,911.0 754.5,910.4 755.5,910.2 756.5,908.9 757.5,907.1 758.5,908.2 759.5,908.6 760.5,910.4 761.5,910.3 762.5,909.4 763.5,910.3 764.5,912.2 765.5,909.8 766.5,909.5 767.5,910.4 768.5,910.2 769.5,910.7 770.5,912.4 771.5,913.3 772.5,910.0 773.5,911.3 774.5,911.9 775.5,911.9 776.5,911.8 777.5,912.1 778.5,913.4 779.5,912.2 780.5,912.3 781.5,912.7 782.5,912.9 783.5,913.1 784.5,914.2 785.5,913.5 786.5,913.5 787.5,913.2 788.5,912.2 789.5,912.2 790.5,912.4 791.5,913.7 792.5,913.0 793.5,912.8 794.5,914.5 795.5,914.7 796.5,913.0 797.5,916.3 798.5,915.3 799.5,915.1 800.5,916.3 801.5,915.4 802.5,915.2 803.5,917.6 804.5,914.8 805.5,915.5 806.5,916.5 807.5,914.9 808.5,915.8 809.5,917.2 810.5,919.1 811.5,916.0 812.5,916.5 813.5,917.5 814.5,916.8 815.5,915.7 816.5,917.3 817.5,917.6 818.5,918.2 819.5,919.2 820.5,919.2 821.5,918.6 822.5,918.1 823.5,916.8 824.5,917.8 825.5,918.4 826.5,918.0 827.5,918.3 828.5,918.1 829.5,921.0 830.5,921.8 831.5,919.2 832.5,919.5 833.5,919.4 834.5,921.0 835.5,920.4 836.5,919.8 837.5,919.6 838.5,919.7 839.5,919.0 840.5,920.5 841.5,919.7 842.5,920.8 843.5,921.0 844.5,921.9 845.5,921.2 846.5,921.8 847.5,920.2 848.5,921.4 849.5,921.1 850.5,921.4 851.5,921.7 852.5,922.1 853.5,919.5 854.5,921.2 855.5,920.4 856.5,922.4 857.5,919.7 858.5,920.0 859.5,920.4 860.5,923.5 861.5,921.3 862.5,922.2 863.5,921.5 864.5,920.4 865.5,922.1 866.5,923.6 867.5,923.2 868.5,924.1 869.5,923.0 870.5,923.1 871.5,923.0 872.5,924.3 873.5,926.0 874.5,924.7 875.5,923.9 876.5,923.0 877.5,923.3 878.5,925.3 879.5,923.0 880.5,922.8 881.5,923.9 882.5,924.4 883.5,926.1 884.5,922.3 885.5,924.6 886.5,925.4 887.5,923.5 888.5,923.9 889.5,925.7 890.5,926.9 891.5,924.0 892.5,923.3 893.5,926.4 894.5,927.3 895.5,924.9 896.5,923.2 897.5,926.7 898.5,926.1 899.5,927.0 900.5,926.0 901.5,925.3 902.5,925.7 903.5,928.1 904.5,927.7 905.5,923.8 906.5,925.1 907.5,928.1 908.5,926.1 909.5,924.8 910.5,926.2 911.5,926.5 912.5,926.4 913.5,926.1 914.5,926.2 915.5,926.4 916.5,927.1 917.5,926.1 918.5,926.5 919.5,927.3 920.5,928.9 921.5,928.1 922.5,927.5 923.5,928.2 924.5,928.4 925.5,929.1 926.5,929.0 927.5,930.3 928.5,929.8 929.5,928.0 930.5,927.6 931.5,929.0 932.5,928.8 933.5,927.7 934.5,925.8 935.5,925.7 936.5,928.3 937.5,929.5 938.5,929.1 939.5,927.3 940.5,929.2 941.5,928.2 942.5,928.9 943.5,928.9 944.5,927.6 945.5,927.2 946.5,925.8 947.5,926.6 948.5,926.5 949.5,928.9 950.5,929.2 951.5,930.1 952.5,929.4 953.5,928.4 954.5,929.1 955.5,928.8 956.5,929.8 957.5,929.4 958.5,928.0 959.5,928.9 960.5,929.2 961.5,929.1 962.5,930.7 963.5,931.5 964.5,929.3 965.5,928.3 966.5,926.6 967.5,928.6 968.5,928.4 969.5,926.9 970.5,929.5 971.5,930.2 972.5,928.8 973.5,928.8 974.5,928.6 975.5,930.0 976.5,928.0 977.5,929.5 978.5,932.0 979.5,930.5 980.5,930.4 981.5,929.5 982.5,928.5 983.5,929.7 984.5,930.2 985.5,929.0 986.5,930.5 987.5,931.9 988.5,931.3 989.5,928.2 990.5,928.2 991.5,928.3 992.5,931.2 993.5,931.4 994.5,931.0 995.5,929.1 996.5,928.7 997.5,930.2 998.5,930.3 999.5,929.4 1000.5,930.5 1001.5,931.3 1002.5,930.7 1003.5,928.8 1004.5,927.7 1005.5,929.8 1006.5,930.7 1007.5,930.3 1008.5,929.9 1009.5,930.0 1010.5,931.4 1011.5,930.9 1012.5,930.7 1013.5,929.6 1014.5,929.9 1015.5,930.7 1016.5,929.5 1017.5,929.1 1018.5,930.6 1019.5,932.4 1020.5,932.0 1021.5,932.9 1022.5,931.3 1023.5,930.4 1024.5,929.3 1025.5,930.6 1026.5,932.9 1027.5,932.3 1028.5,932.5 1029.5,932.4 1030.5,931.6 1031.5,931.3 1032.5,931.8 1033.5,932.5 1034.5,932.4 1035.5,932.4 1036.5,931.8 1037.5,930.8 1038.5,931.0 1039.5,930.8 1040.5,932.2 1041.5,929.5 1042.5,931.7 1043.5,934.6 1044.5,931.9 1045.5,930.5 1046.5,932.0 1047.5,933.5 1048.5,932.4 1049.5,932.8 1050.5,932.3 1051.5,932.6 1052.5,935.9 1053.5,933.0 1054.5,931.6 1055.5,931.7 1056.5,932.8 1057.5,933.2 1058.5,933.5 1059.5,932.5 1060.5,931.0 1061.5,932.7 1062.5,932.3 1063.5,931.8 1064.5,930.6 1065.5,931.4 1066.5,931.7 1067.5,932.1 1068.5,931.0 1069.5,932.5 1070.5,932.7 1071.5,931.4 1072.5,931.6 1073.5,932.0 1074.5,933.1 1075.5,930.1 1076.5,931.5 1077.5,930.8 1078.5,932.3 1079.5,933.8 1080.5,932.6 1081.5,932.9 1082.5,932.7 1083.5,935.5 1084.5,935.1 1085.5,934.5 1086.5,931.7 1087.5,931.9 1088.5,934.2 1089.5,933.3 1090.5,933.1 1091.5,933.4 1092.5,932.2 1093.5,934.0 1094.5,933.7 1095.5,933.8 1096.5,932.9 1097.5,933.7 1098.5,933.0 1099.5,934.7 1100.5,935.3 1101.5,935.0 1102.5,934.5 1103.5,933.7 1104.5,930.7 1105.5,933.8 1106.5,933.5 1107.5,933.6 1108.5,933.0 1109.5,931.8 1110.5,932.8 1111.5,934.7 1112.5,935.4 1113.5,933.1 1114.5,932.8 1115.5,935.0 1116.5,933.6 1117.5,936.0 1118.5,934.1 1119.5,933.0 1120.5,935.2 1121.5,935.7 1122.5,932.9 1123.5,935.2 1124.5,934.3 1125.5,935.4 1126.5,933.4 1127.5,932.0 1128.5,934.3 1129.5,935.6 1130.5,937.1 1131.5,936.7 1132.5,935.1 1133.5,933.7 1134.5,933.2 1135.5,933.2 1136.5,932.8 1137.5,932.8 1138.5,930.9 1139.5,933.5 1140.5,934.6 1141.5,937.2 1142.5,935.4 1143.5,933.8 1144.5,934.3 1145.5,932.6 1146.5,932.5 1147.5,932.0 1148.5,935.4 1149.5,934.8 1150.5,932.8 1151.5,933.9 1152.5,935.3 1153.5,935.0 1154.5,934.5 1155.5,933.0 1156.5,933.2 1157.5,934.3 1158.5,935.0 1159.5,933.1 1160.5,932.9 1161.5,935.0 1162.5,933.6 1163.5,935.3 1164.5,935.0 1165.5,935.8 1166.5,936.7 1167.5,935.7 1168.5,935.1 1169.5,933.2 1170.5,933.3 1171.5,935.2 1172.5,936.6 1173.5,936.9 1174.5,937.5 1175.5,935.3 1176.5,934.9 1177.5,935.5 1178.5,934.6 1179.5,934.0 1180.5,933.3 1181.5,935.0 1182.5,933.4 1183.5,934.3 1184.5,933.1 1185.5,935.0 1186.5,933.6 1187.5,934.7 1188.5,932.6 1189.5,933.8 1190.5,935.5 1191.5,933.8 1192.5,934.2 1193.5,933.3 1194.5,931.7 1195.5,934.3 1196.5,934.8 1197.5,933.4 1198.5,934.7 1199.5,933.4 1200.5,933.1 1201.5,934.1 1202.5,934.3 1203.5,936.7 1204.5,933.5 1205.5,935.3 1206.5,935.4 1207.5,932.0 1208.5,932.2 1209.5,934.7 1210.5,934.3 1211.5,935.2 1212.5,936.0 1213.5,934.2 1214.5,932.6 1215.5,931.2 1216.5,934.0 1217.5,933.7 1218.5,934.9 1219.5,934.7 1220.5,933.6 1221.5,936.7 1222.5,936.7 1223.5,935.7 1224.5,933.5 1225.5,933.8 1226.5,933.9 1227.5,933.9 1228.5,933.5 1229.5,935.1 1230.5,935.3 1231.5,935.2 1232.5,934.7 1233.5,936.3 1234.5,934.7 1235.5,931.5 1236.5,933.4 1237.5,934.9 1238.5,936.0 1239.5,934.7 1240.5,934.4 1241.5,934.2 1242.5,935.4 1243.5,934.4 1244.5,933.9 1245.5,934.1 1246.5,935.3 1247.5,934.1 1248.5,933.0 1249.5,935.1 1250.5,934.4 1251.5,935.4 1252.5,935.9 1253.5,936.8 1254.5,936.5 1255.5,934.6 1256.5,934.4 1257.5,933.9 1258.5,936.9 1259.5,936.4 1260.5,936.8 1261.5,934.6 1262.5,933.0 1263.5,936.5 1264.5,935.7 1265.5,935.4 1266.5,935.4 1267.5,936.1 1268.5,935.6 1269.5,933.7 1270.5,936.0 1271.5,934.8 1272.5,935.0 1273.5,937.4 1274.5,936.7 1275.5,934.6 1276.5,933.0 1277.5,935.1 1278.5,936.0 1279.5,935.0 1280.5,933.6 1281.5,933.7 1282.5,933.7 1283.5,935.5 1284.5,936.6 1285.5,936.6 1286.5,934.8 1287.5,935.6 1288.5,936.0 1289.5,934.9 1290.5,935.6 1291.5,938.0 1292.5,936.4 1293.5,936.4 1294.5,935.2 1295.5,935.0 1296.5,933.4 1297.5,935.3 1298.5,937.4 1299.5,938.6 1300.5,937.6 1301.5,936.6 1302.5,935.6 1303.5,934.8 1304.5,935.4 1305.5,936.0 1306.5,935.0 1307.5,936.2 1308.5,934.2 1309.5,933.0 1310.5,933.5 1311.5,933.0 1312.5,933.8 1313.5,936.6 1314.5,935.7 1315.5,936.1 1316.5,937.4 1317.5,937.3 1318.5,935.7 1319.5,937.2 1320.5,936.5 1321.5,935.9 1322.5,935.9 1323.5,933.9 1324.5,934.4 1325.5,935.5 1326.5,936.3 1327.5,935.4 1328.5,935.7 1329.5,937.2 1330.5,937.9 1331.5,937.4 1332.5,937.4 1333.5,935.5 1334.5,935.4 1335.5,936.0 1336.5,935.4 1337.5,935.6 1338.5,937.6 1339.5,935.8 1340.5,934.8 1341.5,936.6 1342.5,938.2 1343.5,936.7 1344.5,937.2 1345.5,935.5 1346.5,935.0 1347.5,934.9 1348.5,936.0 1349.5,937.8 1350.5,935.4 1351.5,937.3 1352.5,935.1 1353.5,935.6 1354.5,937.0 1355.5,937.0 1356.5,936.0 1357.5,934.2 1358.5,935.7 1359.5,935.5 1360.5,938.7 1361.5,936.4 1362.5,935.9 1363.5,934.6 1364.5,934.8 1365.5,934.6 1366.5,936.8 1367.5,936.1 1368.5,936.5 1369.5,935.3 1370.5,935.6 1371.5,937.2 1372.5,934.8 1373.5,933.8 1374.5,935.8 1375.5,934.7 1376.5,935.5 1377.5,936.9 1378.5,935.6 1379.5,936.8 1380.5,935.9 1381.5,938.1 1382.5,938.0 1383.5,935.9 1384.5,935.6 1385.5,935.2 1386.5,936.5 1387.5,937.2 1388.5,935.0 1389.5,936.6 1390.5,934.7 1391.5,934.4 1392.5,934.4 1393.5,938.3 1394.5,936.9 1395.5,936.4 1396.5,935.8 1397.5,936.8 1398.5,934.1 1399.5,936.4 1400.5,938.8 1401.5,936.4 1402.5,936.4 1403.5,936.9 1404.5,935.5 1405.5,936.4 1406.5,937.6 1407.5,936.9 1408.5,936.8 1409.5,936.1 1410.5,936.7 1411.5,936.9 1412.5,938.3 1413.5,937.6 1414.5,935.7 1415.5,933.6 1416.5,936.9 1417.5,937.3 1418.5,935.0 1419.5,933.6 1420.5,934.8 1421.5,937.0 1422.5,935.3 1423.5,935.7 1424.5,937.0 1425.5,938.0 1426.5,936.8 1427.5,936.3 1428.5,936.3 1429.5,938.6 1430.5,938.2 1431.5,936.4 1432.5,934.7 1433.5,935.4 1434.5,936.9 1435.5,936.1 1436.5,937.6 1437.5,937.4 1438.5,937.2 1439.5,937.6 1440.5,937.2 1441.5,935.7 1442.5,936.7 1443.5,939.1 1444.5,935.7 1445.5,936.1 1446.5,937.8 1447.5,936.6 1448.5,935.4 1449.5,935.1 1450.5,937.3 1451.5,938.5 1452.5,938.7 1453.5,937.5 1454.5,937.8 1455.5,935.9 1456.5,936.6 1457.5,936.1 1458.5,937.0 1459.5,938.0 1460.5,938.0 1461.5,936.3 1462.5,938.0 1463.5,936.4 1464.5,935.5 1465.5,936.0 1466.5,935.1 1467.5,936.6 1468.5,937.2 1469.5,936.9 1470.5,937.4 1471.5,936.7 1472.5,936.5 1473.5,935.2 1474.5,936.4 1475.5,935.8 1476.5,936.2 1477.5,936.8 1478.5,936.8 1479.5,934.7 1480.5,934.6 1481.5,936.4 1482.5,937.6 1483.5,937.8 1484.5,938.5 1485.5,938.9 1486.5,938.0 1487.5,936.9 1488.5,935.6 1489.5,935.6 1490.5,936.4 1491.5,937.3 1492.5,937.4 1493.5,937.1 1494.5,937.1 1495.5,937.9 1496.5,937.6 1497.5,937.6 1498.5,937.4 1499.5,936.3 1500.5,935.9 1501.5,937.6 1502.5,937.7 1503.5,936.9 1504.5,937.2 1505.5,939.6 1506.5,936.8 1507.5,936.8 1508.5,937.2 1509.5,936.0 1510.5,937.5 1511.5,939.6 1512.5,939.0 1513.5,938.4 1514.5,938.2 1515.5,937.8 1516.5,938.4 1517.5,937.2 1518.5,936.8 1519.5,937.5 1520.5,938.5 1521.5,938.1 1522.5,937.7 1523.5,935.4 1524.5,938.8 1525.5,940.8 1526.5,939.4 1527.5,937.1 1528.5,936.3 1529.5,937.2 1530.5,936.4 1531.5,937.9 1532.5,937.2 1533.5,938.7 1534.5,938.7 1535.5,935.4 1536.5,937.1 1537.5,936.3 1538.5,935.4 1539.5,936.3 1540.5,937.3 1541.5,938.2 1542.5,936.2 1543.5,938.8 1544.5,940.3 1545.5,938.8 1546.5,938.3 1547.5,937.3 1548.5,936.2 1549.5,937.9 1550.5,938.3 1551.5,939.1 1552.5,940.9 1553.5,939.1 1554.5,938.6 1555.5,939.1 1556.5,936.0 1557.5,935.7 1558.5,936.6 1559.5,936.8 1560.5,938.1 1561.5,937.8 1562.5,939.9 1563.5,940.0 1564.5,938.8 1565.5,937.5 1566.5,938.4 1567.5,938.4 1568.5,936.6 1569.5,937.9 1570.5,938.6 1571.5,938.4 1572.5,939.8 1573.5,939.2 1574.5,937.0 1575.5,937.3 1576.5,936.8 1577.5,937.9 1578.5,937.0 1579.5,938.6 1580.5,938.6 1581.5,938.9 1582.5,937.4 1583.5,936.3 1584.5,939.4 1585.5,938.3 1586.5,939.4 1587.5,938.7 1588.5,939.1 1589.5,940.1 1590.5,938.9 1591.5,939.1 1592.5,936.5 1593.5,938.3 1594.5,937.6 1595.5,937.5 1596.5,937.8 1597.5,938.6 1598.5,939.3 1599.5,936.0 1600.5,937.1 1601.5,937.2 1602.5,938.9 1603.5,937.7 1604.5,938.1 1605.5,937.6 1606.5,938.7 1607.5,939.1 1608.5,937.6 1609.5,937.4 1610.5,936.2 1611.5,938.0 1612.5,938.8 1613.5,937.7 1614.5,938.5 1615.5,935.2 1616.5,934.7 1617.5,935.6 1618.5,936.9 1619.5,937.7 1620.5,937.7 1621.5,937.9 1622.5,938.6 1623.5,937.2 1624.5,935.9 1625.5,936.6 1626.5,939.5 1627.5,935.6 1628.5,937.5 1629.5,939.7 1630.5,938.6 1631.5,937.0 1632.5,937.9 1633.5,939.3 1634.5,939.3 1635.5,937.4 1636.5,938.7 1637.5,938.7 1638.5,939.7 1639.5,939.8 1640.5,937.5 1641.5,936.2 1642.5,938.5 1643.5,940.4 1644.5,939.3 1645.5,939.0 1646.5,940.6 1647.5,937.6 1648.5,938.7 1649.5,937.6 1650.5,937.9 1651.5,938.5 1652.5,939.6 1653.5,937.2 1654.5,936.7 1655.5,936.1 1656.5,938.1 1657.5,937.7 1658.5,938.2 1659.5,936.8 1660.5,937.6 1661.5,939.2 1662.5,938.3 1663.5,938.9 1664.5,938.8 1665.5,937.4 1666.5,936.4 1667.5,938.9 1668.5,938.8 1669.5,938.8 1670.5,935.5 1671.5,935.1 1672.5,934.9 1673.5,936.8 1674.5,939.3 1675.5,939.1 1676.5,938.3 1677.5,938.5 1678.5,939.0 1679.5,938.1 1680.5,938.6 1681.5,937.9 1682.5,935.5 1683.5,937.5 1684.5,939.6 1685.5,938.0 1686.5,937.8 1687.5,937.3 1688.5,937.7 1689.5,939.3 1690.5,937.9 1691.5,936.1 1692.5,934.1 1693.5,936.2 1694.5,935.3 1695.5,935.8 1696.5,938.9 1697.5,938.8 1698.5,936.4 1699.5,938.9 1700.5,938.8 1701.5,937.6 1702.5,938.5 1703.5,936.2 1704.5,936.1 1705.5,936.0 1706.5,936.8 1707.5,938.7 1708.5,936.6 1709.5,936.3 1710.5,936.9 1711.5,938.2 1712.5,938.2 1713.5,939.1 1714.5,937.4 1715.5,936.5 1716.5,937.4 1717.5,938.0 1718.5,937.3 1719.5,938.9 1720.5,940.4 1721.5,938.1 1722.5,938.6 1723.5,939.8 1724.5,937.7 1725.5,936.9 1726.5,936.9 1727.5,938.7 1728.5,939.0 1729.5,938.3 1730.5,938.7 1731.5,940.1 1732.5,939.4 1733.5,936.9 1734.5,938.0 1735.5,938.7 1736.5,939.2 1737.5,938.1 1738.5,937.5 1739.5,937.2 1740.5,936.2 1741.5,937.8 1742.5,937.8 1743.5,938.6 1744.5,937.2 1745.5,937.4 1746.5,936.9 1747.5,937.1 1748.5,938.9 1749.5,938.2 1750.5,938.6 1751.5,937.3 1752.5,937.9 1753.5,936.4 1754.5,937.3 1755.5,937.9 1756.5,939.1 1757.5,938.8 1758.5,938.5 1759.5,939.5 1760.5,939.1 1761.5,939.4 1762.5,939.5 1763.5,938.5 1764.5,938.2 1765.5,938.7 1766.5,938.2 1767.5,939.2 1768.5,940.2 1769.5,939.7 1770.5,938.0 1771.5,936.9 1772.5,938.1 1773.5,938.7 1774.5,939.7 1775.5,938.3 1776.5,938.4 1777.5,939.3 1778.5,938.2 1779.5,938.7 1780.5,941.0 1781.5,941.0 1782.5,939.8 1783.5,938.8 1784.5,937.7 1785.5,939.1 1786.5,938.9 1787.5,938.8 1788.5,938.1 1789.5,938.5 1790.5,938.5 1791.5,939.4 1792.5,940.5 1793.5,939.0 1794.5,936.6 1795.5,936.7 1796.5,936.4 1797.5,937.5 1798.5,939.3 1799.5,939.2 1800.5,938.2 1801.5,938.7 1802.5,937.5 1803.5,936.5 1804.5,936.5 1805.5,937.7 1806.5,939.9 1807.5,937.8 1808.5,940.2 1809.5,940.6 1810.5,938.9 1811.5,938.5 1812.5,938.0 1813.5,938.8 1814.5,939.6 1815.5,939.2 1816.5,940.3 1817.5,940.6 1818.5,939.6 1819.5,939.3 1820.5,938.9 1821.5,939.0 1822.5,937.7 1823.5,939.1 1824.5,939.0 1825.5,938.4 1826.5,941.0 1827.5,938.1 1828.5,937.7 1829.5,938.5 1830.5,936.5 1831.5,937.1 1832.5,936.7 1833.5,937.3 1834.2,938.5" stroke="#980000"/>
</g>
<rect x="741.5" y="204.0" width="1092.7" height="769.0" fill="none" stroke="#000" stroke-width="6.5"/>
<path d="M740.8,973.0 V988.0 M831.9,973.0 V980.0 M923.0,973.0 V988.0 M1014.1,973.0 V980.0 M1105.2,973.0 V988.0 M1196.3,973.0 V980.0 M1287.4,973.0 V988.0 M1378.5,973.0 V980.0 M1469.6,973.0 V988.0 M1560.7,973.0 V980.0 M1651.8,973.0 V988.0 M1742.9,973.0 V980.0 M1834.0,973.0 V988.0" stroke="#000" stroke-width="6.0" fill="none"/>
<g class="ar" font-size="48" text-anchor="middle" fill="#000">
<text x="740.8" y="1033.2">30</text>
<text x="923.0" y="1033.2">35</text>
<text x="1105.2" y="1033.2">40</text>
<text x="1287.4" y="1033.2">45</text>
<text x="1469.6" y="1033.2">50</text>
<text x="1651.8" y="1033.2">55</text>
<text x="1834.0" y="1033.2">60</text>
</g>
</svg></body></html>
